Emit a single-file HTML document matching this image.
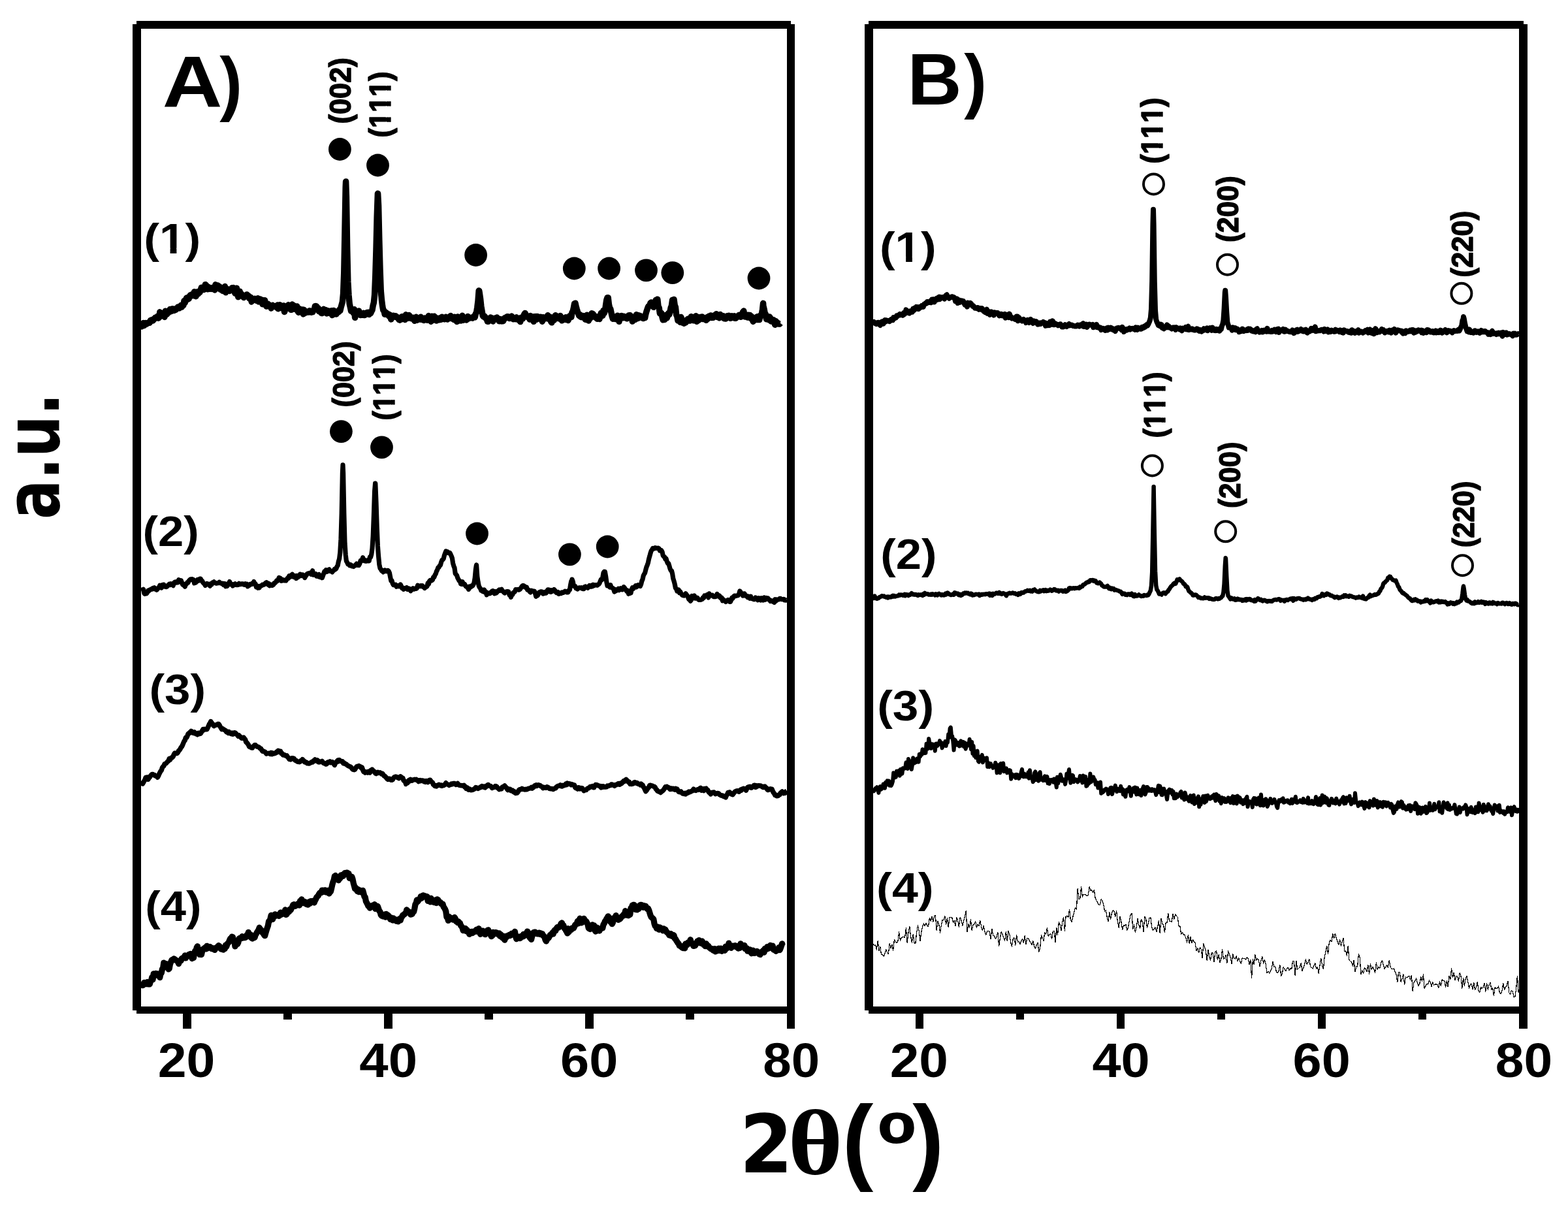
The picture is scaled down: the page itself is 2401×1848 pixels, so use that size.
<!DOCTYPE html>
<html lang="en"><head><meta charset="utf-8"><title>XRD patterns</title>
<style>html,body{margin:0;padding:0;background:#fff}svg{display:block}text{font-kerning:none;fill:#000}</style></head>
<body>
<svg width="2401" height="1848" viewBox="0 0 2401 1848" role="img" aria-label="XRD patterns, panels A and B">
<rect width="2401" height="1848" fill="#fff"/>
<g fill="none" stroke="#000" stroke-linejoin="round" stroke-linecap="butt">
<polyline points="216,499.25 217.2,499.8 218.4,498.37 219.6,494.52 220.8,498.41 222,497.09 223.2,494.47 224.4,496.17 225.6,495.35 226.8,494.55 228,493.52 229.2,494.13 230.4,490.51 231.6,490.88 232.8,489.53 234,491.1 235.2,489.51 236.4,488.33 237.6,486.28 238.8,486.19 240,485.86 241.2,484.16 242.4,487.13 243.6,486.28 244.8,477.87 246,479.76 247.2,483.25 248.4,482.67 249.6,483.54 250.8,482.65 252,485.37 253.2,476.33 254.4,476.74 255.6,481.15 256.8,478.24 258,478.77 259.2,476.21 260.4,473.46 261.6,476.76 262.8,476.17 264,472.64 265.2,474.11 266.4,475.54 267.6,472.94 268.8,474.53 270,473.5 271.2,472.2 272.4,470.07 273.6,471.7 274.8,471.89 276,470.14 277.2,467.36 278.4,470.11 279.6,466.19 280.8,467.67 282,460.62 283.2,463.57 284.4,459.97 285.6,456.13 286.8,457.72 288,457.97 289.2,457.36 290.4,453.21 291.6,451.76 292.8,453.34 294,450.63 295.2,451.69 296.4,452.63 297.6,446.77 298.8,451.53 300,453.68 301.2,449.16 302.4,446.73 303.6,449.77 304.8,446.96 306,447.57 307.2,443.76 308.4,440.2 309.6,443.31 310.8,441.55 312,443.57 313.2,440.74 314.4,435.65 315.6,436.54 316.8,442.3 318,442.79 319.2,439.38 320.4,441.52 321.6,442.33 322.8,441.38 324,442.41 325.2,440.39 326.4,440.18 327.6,440.63 328.8,444.01 330,435.85 331.2,440.93 332.4,440.82 333.6,437.09 334.8,441.28 336,438.65 337.2,443.03 338.4,440.64 339.6,443.61 340.8,445.39 342,443.17 343.2,440.38 344.4,438.52 345.6,447.74 346.8,443.9 348,442.48 349.2,444.89 350.4,443.54 351.6,445.53 352.8,443.18 354,442.91 355.2,440.85 356.4,444.01 357.6,440.62 358.8,445.9 360,449.23 361.2,442.66 362.4,441.16 363.6,449.16 364.8,454.63 366,446.16 367.2,446.19 368.4,452.26 369.6,449.91 370.8,451.94 372,453.3 373.2,455.51 374.4,452.71 375.6,453.81 376.8,452.12 378,450.92 379.2,453.26 380.4,452.79 381.6,456.72 382.8,454.73 384,455.33 385.2,462.03 386.4,457.94 387.6,458.1 388.8,459.34 390,457.28 391.2,458.35 392.4,460.15 393.6,460.27 394.8,456.85 396,461.87 397.2,458.6 398.4,457.94 399.6,458.77 400.8,460.2 402,465.77 403.2,459.68 404.4,463.92 405.6,459.88 406.8,466.17 408,469.07 409.2,466.59 410.4,465.37 411.6,466.62 412.8,467.57 414,467.91 415.2,471.95 416.4,468.87 417.6,467.59 418.8,468.59 420,468.49 421.2,469.1 422.4,469.38 423.6,470.93 424.8,467.1 426,472.83 427.2,469.14 428.4,466.81 429.6,470.42 430.8,471.64 432,469.66 433.2,469.61 434.4,467.94 435.6,477.57 436.8,473.89 438,469.25 439.2,469.57 440.4,471.28 441.6,466.84 442.8,470.93 444,470.29 445.2,474.18 446.4,474.3 447.6,466.08 448.8,471.78 450,467.85 451.2,473.18 452.4,470.65 453.6,471.85 454.8,468.9 456,476.62 457.2,478.42 458.4,472.62 459.6,476.65 460.8,475.25 462,476.77 463.2,473.93 464.4,480.94 465.6,474.46 466.8,476.4 468,478.91 469.2,476.92 470.4,477.98 471.6,477.44 472.8,478.06 474,475.68 475.2,477.7 476.4,478.22 477.6,477.78 478.8,477.76 480,474.96 481.2,474.18 482.4,468.67 483,470.11 483.6,468.59 484.8,469.14 486,471.48 487.2,471.67 488.4,476.75 489.6,474.52 490.8,476.65 492,479.54 493.2,479.64 494.4,477.6 495.6,473.34 496.8,478.37 498,478.3 499.2,474.69 500.4,479.87 501.6,476.97 502.8,475.92 504,479.08 505.2,478.73 506.4,479.7 507.6,475.67 508.8,482.6 510,477.34 511.2,475.42 512.4,480.86 513.6,479.56 514.8,481.04 516,478.95 517.2,478.57 518.4,477.8 519.6,474.3 520.8,475.86 522,470.83 523.2,466.41 524.4,462.03 525.6,449.49 526.8,416.93 528,353.53 529.2,286.81 529.6,278.04 530.4,300.77 531.6,377.77 532.8,431.17 534,451.81 535.2,464.97 536.4,470.55 537.6,476.29 538.8,474.45 540,476.72 541.2,479.34 542.4,473.71 543.6,486.28 544.8,478.19 546,478.24 547.2,481.8 548.4,479.89 549.6,476.04 550.8,481.73 552,482.53 553.2,479.94 554.4,480.7 555.6,482.32 556.8,479.34 558,482.57 559.2,482.1 560.4,480.29 561.6,478.58 562.8,480.26 564,478.24 565.2,481.51 566.4,479.03 567.6,479.64 568.8,476.92 570,474.57 571.2,467.65 572.4,463.22 573.6,451.5 574.8,422.36 576,382.05 577.2,331.69 578.4,296.69 578.6,296.24 579.6,315.27 580.8,367.83 582,411.91 583.2,445 584.4,458.6 585.6,468.26 586.8,474.89 588,475.47 589.2,481.25 590.4,478.2 591.6,478.9 592.8,480.79 594,482.56 595.2,481.02 596.4,484.92 597.6,482.31 598.8,488.91 600,485.83 601.2,484.3 602.4,483.3 603.6,484.67 604.8,485.19 606,483.92 607.2,484.85 608.4,486.6 609.6,486.11 610.8,489.51 612,490.08 613.2,487.89 614.4,489.06 615.6,484.67 616.8,488.19 618,486.48 619.2,486.93 620.4,489.55 621.6,481.86 622.8,486.95 624,484.09 625.2,487.09 626.4,482.62 627.6,484.27 628.8,486.1 630,487.73 631.2,487.3 632.4,486.4 633.6,487.55 634.8,491.14 636,489.25 637.2,485.36 638.4,490.3 639.6,488.55 640.8,489 642,486.51 643.2,488.94 644.4,485.34 645.6,489.28 646.8,486.96 648,489.41 649.2,490.54 650.4,486.94 651.6,488.83 652.8,488.82 654,490.15 655.2,488.42 656.4,483.6 657.6,487.52 658.8,488.76 660,492.3 661.2,484.31 662.4,486.31 663.6,490.06 664.8,484.25 666,485.18 667.2,489.5 668.4,490.98 669.6,487.3 670.8,489.06 672,487.34 673.2,489.79 674.4,486.56 675.6,489.14 676.8,485.18 678,486.48 679.2,486.48 680.4,488.7 681.6,487.65 682.8,485.32 684,488.49 685.2,488.83 686.4,486.95 687.6,486.45 688.8,486.67 690,483.55 691.2,487.63 692.4,487.77 693.6,485.67 694.8,489.39 696,485.31 697.2,487.28 698.4,487.24 699.6,492.49 700.8,485.01 702,489.95 703.2,491.07 704.4,489.79 705.6,491.06 706.8,485.86 708,483.26 709.2,490.29 710.4,486.64 711.6,489 712.8,486.66 714,489.97 715.2,488.7 716.4,484.5 717.6,487.69 718.8,486.81 720,486.43 721.2,486.67 722.4,486.11 723.6,487 724.8,485.78 726,484.02 727.2,485.75 728.4,480.41 729.6,478.27 730.8,470.65 732,460.87 733.2,444.98 733.8,445.4 734.4,449.24 735.6,457.37 736.8,468.84 738,475.87 739.2,483.41 740.4,485.01 741.6,483.87 742.8,485.18 744,487.56 745.2,487.89 746.4,492.09 747.6,492.33 748.8,490.25 750,488.28 751.2,485.91 752.4,486.73 753.6,488.98 754.8,491.97 756,489.75 757.2,487.5 758.4,488 759.6,486.99 760.8,486.15 762,487.55 763.2,488.39 764.4,491.83 765.6,488.4 766.8,490.87 768,491.88 769.2,488.66 770.4,491.69 771.6,489.54 772.8,486.82 774,487.2 775.2,485.77 776.4,484.97 777.6,484.68 778.8,485.89 780,487.48 781.2,485.2 782.4,487.28 783.6,484.1 784.8,487.82 786,488.72 787.2,487.98 788.4,488.18 789.6,488.68 790.8,485.86 792,487.19 793.2,489.22 794.4,490.28 795.6,488.79 796.8,492.6 798,486.24 799.2,487.92 800.4,487.89 801.6,483.9 802.8,481.23 804,479.44 805.2,481.74 806.4,484.71 807.6,484.52 808.8,486.13 810,486.28 811.2,489.05 812.4,483.6 813.6,488.39 814.8,488.24 816,485.02 817.2,492.34 818.4,484.78 819.6,485.12 820.8,484.57 822,489.11 823.2,484.48 824.4,487.57 825.6,487.92 826.8,487.88 828,485.28 829.2,487.15 830.4,492.26 831.6,485.78 832.8,486.1 834,486.94 835.2,487.55 836.4,485.45 837.6,486.32 838.8,482.71 840,488.21 841.2,488.93 842.4,485.3 843.6,492.3 844.8,493.87 846,486.64 847.2,487.89 848.4,490.34 849.6,483.94 850.8,482.8 852,484.15 853.2,485.73 854.4,485.4 855.6,487.73 856.8,486.82 858,483.46 859.2,487.71 860.4,490.86 861.6,489.56 862.8,489.58 864,487.4 865.2,489.36 866.4,485.79 867.6,489.54 868.8,487.98 870,490.38 871.2,487.97 872.4,483.54 873.6,484.79 874.8,485.51 876,478.36 877.2,476.56 878.4,471.45 879.6,464.8 880.8,466.85 881,464.32 882,468.9 883.2,473.29 884.4,477.24 885.6,480.41 886.8,483.38 888,481.71 889.2,485.26 890.4,485.61 891.6,485.71 892.8,483.52 894,485.09 895.2,484.77 896.4,489.24 897.6,486.08 898.8,482.31 900,487.84 901.2,491.05 902.4,487.85 903.6,487.69 904.8,484.78 906,479.83 907.2,480.1 908.4,481.13 909.6,483.79 910.8,485.18 912,486.35 913.2,484.85 914.4,488.23 915.6,486.01 916.8,485.24 918,488.43 919.2,484.22 920.4,479.18 921.6,481.86 922.8,483.38 924,475.44 925.2,479.34 926.4,475.87 927.6,467.12 928.8,459.2 930,455.66 930.5,456.27 931.2,455.65 932.4,466.05 933.6,471.62 934.8,473.08 936,478.64 937.2,484.35 938.4,488.12 939.6,485.36 940.8,485.23 942,488.5 943.2,484.74 944.4,484.8 945.6,483.29 946.8,485.99 948,492.3 949.2,484.68 950.4,487.16 951.6,483.43 952.8,485.64 954,486.76 955.2,484.24 956.4,486.34 957.6,486.45 958.8,485.42 960,487.86 961.2,485.49 962.4,483.1 963.6,482.69 964.8,482.78 966,486.21 967.2,485.19 968.4,492.07 969.6,490.02 970.8,485.33 972,484.91 973.2,489.14 974.4,481.73 975.6,484.88 976.8,487.51 978,482.84 979.2,483.41 980.4,483.69 981.6,485.98 982.8,485.82 984,487.03 985.2,487.48 986.4,485.85 987.6,486.69 988.8,480.88 990,476.78 991.2,473.21 992.4,469.97 993.6,468.15 994.8,468.02 996,463.9 997.2,462.94 998.4,464.76 999.6,468.61 1000.8,470.29 1002,468.61 1003.2,462.46 1004.4,459.21 1005.5,459.88 1005.6,460.44 1006.8,458.15 1008,469.28 1009.2,471.18 1010.4,479.96 1011.6,480.4 1012.8,479.32 1014,485.4 1015.2,489.79 1016.4,486.85 1017.6,489.47 1018.8,486.82 1020,482.29 1021.2,486.98 1022.4,483.46 1023.6,479.47 1024.8,481.61 1026,477.1 1027.2,471.11 1028.4,468.21 1029.6,459.28 1030.8,459.92 1032,458.45 1033.2,467.11 1034.4,470.18 1035.6,481.72 1036.8,484.35 1038,490.83 1039.2,488.78 1040.4,490.61 1041.6,493.28 1042.8,485.51 1044,489.12 1045.2,494.09 1046.4,493.75 1047.6,495.2 1048.8,492.56 1050,493.8 1051.2,490.7 1052.4,489.24 1053.6,488.27 1054.8,490.82 1056,490.98 1057.2,490.74 1058.4,484.72 1059.6,487.59 1060.8,489.8 1062,490.82 1063.2,488.23 1064.4,487.03 1065.6,483.77 1066.8,492.32 1068,485.2 1069.2,490.58 1070.4,489.79 1071.6,486.93 1072.8,485.47 1074,487.29 1075.2,485.04 1076.4,488.57 1077.6,487.8 1078.8,488.65 1080,489.21 1081.2,490.27 1082.4,485.81 1083.6,488.47 1084.8,484.42 1086,484.02 1087.2,483.93 1088.4,482.93 1089.6,486.42 1090.8,485.87 1092,486.32 1093.2,483.01 1094.4,483.59 1095.6,481.71 1096.8,480.79 1098,485.17 1099.2,485.28 1100.4,482.85 1101.6,486.82 1102.8,481.44 1104,485.17 1105.2,484.5 1106.4,484.73 1107.6,483.71 1108.8,487.66 1110,486.59 1111.2,488.08 1112.4,486.16 1113.6,483.67 1114.8,485.39 1116,483.19 1117.2,486.4 1118.4,487.31 1119.6,485.52 1120.8,483.99 1122,484.63 1123.2,486.67 1124.4,483.87 1125.6,487.24 1126.8,487.19 1128,484.92 1129.2,484.13 1130.4,484.87 1131.6,482.41 1132.8,482.19 1134,485.26 1135.2,483.05 1136.4,484.58 1137.6,477.58 1138,478.88 1138.8,476.11 1140,483.21 1141.2,485.05 1142.4,483.03 1143.6,482.27 1144.8,485.88 1146,482.36 1147.2,485.72 1148.4,482.53 1149.6,487.33 1150.8,484.39 1152,488.62 1153.2,492.17 1154.4,488.4 1155.6,490.26 1156.8,487.07 1158,486.55 1159.2,484.86 1160.4,489.55 1161.6,486.72 1162.8,489.6 1164,483.07 1165.2,484.03 1166.4,480.61 1167.6,473.63 1168.6,464.37 1168.8,468.1 1170,472.82 1171.2,479.67 1172.4,480.99 1173.6,488.73 1174.8,487.27 1176,487.21 1177.2,489.68 1178.4,485.06 1179.6,486.59 1180.8,492.08 1182,491.2 1183.2,491.32 1184.4,489.8 1185.6,494.14 1186.8,497.29 1188,491.6 1189.2,494.38 1190.4,494 1191.6,496.03 1192.8,495.65 1194,496.07 1195,494.83" stroke-width="9.5"/>
<polyline points="216,904.2 217.2,903.15 218.4,903.37 219.6,902.41 220.8,908.42 222,909.43 223.2,908.8 224.4,908.86 225.6,907.21 226.8,904.28 228,904.72 229.2,903.06 230.4,902.85 231.6,901.87 232.8,902.19 234,900.39 235.2,900.72 236.4,899.74 237.6,901.9 238.8,901.22 240,903.23 241.2,901.84 242.4,900.15 243.6,899.02 244.8,896.33 246,897.97 247.2,900.02 248.4,895.54 249.6,895.4 250.8,895.13 252,897.96 253.2,897.48 254.4,898.63 255.6,898.11 256.8,896.38 258,895.47 259.2,894.23 260.4,895.57 261.6,893.67 262.8,894.53 264,895.36 265.2,896.58 266.4,892.26 267.6,891.28 268.8,890.92 270,892 271.2,890.44 272.4,891.73 273.6,887.66 274.8,890.87 276,891.03 277.2,888.65 278.4,891.76 279.6,894.91 280.8,894.12 282,896.53 283.2,898.17 284.4,894.97 285.6,893.93 286.8,891.69 288,892.12 289.2,889.32 290.4,887.98 291.6,886.94 292.8,887.5 294,886.62 295.2,887.14 296.4,887.55 297.6,892.85 298.8,890.78 300,891.88 301.2,889.22 302.4,887.55 303.6,889.22 304.8,888 306,885.98 307.2,886.03 308.4,889.41 309.6,889.47 310.8,891.86 312,893.26 313.2,894.25 314.4,896.36 315.6,894.67 316.8,893.52 318,894.4 319.2,894.11 320.4,895.76 321.6,897.19 322.8,893.7 324,895.08 325.2,892.04 326.4,891.73 327.6,890.84 328.8,892.14 330,892.67 331.2,893.22 332.4,892.92 333.6,892.79 334.8,892.61 336,891.2 337.2,892.69 338.4,893.1 339.6,893.45 340.8,893.08 342,895.4 343.2,893.48 344.4,893.54 345.6,897.83 346.8,894.84 348,897.25 349.2,893.57 350.4,893.12 351.6,890.42 352.8,894.59 354,894.27 355.2,894.41 356.4,896.98 357.6,894.83 358.8,894.49 360,893.67 361.2,895.35 362.4,895.54 363.6,895.54 364.8,895.36 366,893.4 367.2,894.19 368.4,894.74 369.6,893.96 370.8,893.89 372,893.89 373.2,895 374.4,895.4 375.6,893.87 376.8,895.45 378,894.42 379.2,897.9 380.4,895.37 381.6,896.28 382.8,894.27 384,894.41 385.2,894.6 386.4,893.14 387.6,893.15 388.8,890.59 390,894.45 391.2,893.98 392.4,898.87 393.6,897.91 394.8,900.15 396,897.61 397.2,899.89 398.4,897.15 399.6,896.88 400.8,896.57 402,895.14 403.2,895.18 404.4,895.13 405.6,893.75 406.8,892.46 408,891.62 409.2,892.73 410.4,895.12 411.6,893.51 412.8,896.76 414,895.55 415.2,895.1 416.4,896.49 417.6,896.14 418.8,895.1 420,892.63 421.2,892.54 422.4,891.3 423.6,888.94 424.8,889.54 426,887.99 427.2,884.4 428.4,886.32 429.6,885.54 430.8,889.3 432,889.23 433.2,887.59 434.4,888.11 435.6,888.92 436.8,888.13 438,888.86 439.2,886.81 440.4,884.98 441.6,885.33 442.8,881.71 444,883.62 445.2,882.93 446.4,880.44 447.6,879.27 448.8,880.77 450,883.4 451.2,882.36 452.4,881.78 453.6,885.64 454.8,881.54 456,884.11 457.2,881.58 458.4,882.07 459.6,879.15 460.8,881.68 462,881.34 463.2,879.94 464.4,880.43 465.6,882.56 466.8,884.56 468,882.05 469.2,880.64 470.4,878.55 471.6,878.06 472.8,877.74 474,877.58 475.2,876.97 476.4,879.29 477.6,878.02 478.6,873.74 478.8,874.89 480,880.21 481.2,880.05 482.4,879.98 483.6,878.76 484.8,882.19 486,882.35 487.2,880.66 488.4,879.52 489.6,883.49 490.8,881.8 492,882.24 493.2,884.85 494.4,881.82 495.6,878.27 496.8,875.09 498,875.96 499.2,872.67 500.4,875.46 501.6,873.87 502.8,872.53 504,871.84 505.2,874.31 506.4,874 507.6,874.96 508.8,875.83 510,874.02 511.2,873.2 512.4,871.15 513.6,871.7 514.8,870.64 516,867.55 517.2,865.74 518.4,859.44 519.6,855.47 520.8,845.73 522,825.13 523.2,785.89 524.4,724.47 525,711.93 525.6,724.1 526.8,786.19 528,831.27 529.2,849.32 530.4,859.09 531.6,861 532.8,863.8 534,864.05 535.2,865.73 536.4,864.44 537.6,865.12 538.8,866.83 540,867.01 541.2,867.48 542.4,866.18 543.6,866.05 544.8,864.71 546,863.09 547.2,865.26 548.4,864 549.6,865.4 550.8,863.16 552,858.53 553.2,859.05 554.4,858.37 555.6,853.71 556.8,857.08 558,858.67 559.2,857.8 560.4,859.22 561.6,858.6 562.8,858.96 564,857.19 565.2,858.69 566.4,852.96 567.6,853.17 568.8,848.65 570,839.81 571.2,820.62 572.4,788.87 573.6,752.17 574.6,740.03 574.8,740.08 576,769.45 577.2,807.21 578.4,835.96 579.6,851.89 580.8,864.22 582,870.07 583.2,871.47 584.4,873.96 585.6,873.55 586.8,875.88 588,873.9 589.2,873 590.4,874.09 591.6,874.73 592.8,873.55 594,873.42 595.2,874.48 596.4,877.03 597.6,883.25 598.8,889.14 600,888.84 601.2,893.39 602.4,895.6 603.6,894.85 604.8,896.13 606,895.37 607.2,898.25 608.4,896.5 609.6,897.69 610.8,897.79 612,896.29 613.2,894.98 614.4,897.25 615.6,900.6 616.8,900.95 618,902.3 619.2,900.56 620.4,901.26 621.6,901.24 622.8,899.57 624,902.39 625.2,900.94 626.4,901.1 627.6,901.55 628.8,904.78 630,902.67 631.2,902.6 632.4,900.78 633.6,902.24 634.8,901.89 636,900.96 637.2,901.48 638.4,900.57 639.6,896.3 640.8,897.87 642,897.19 643.2,897.71 644.4,896.66 645.6,897.61 646.8,896.7 648,898.69 649.2,898.94 650.4,900.47 651.6,898.91 652.8,898.57 654,897.64 655.2,892.7 656.4,894.29 657.6,889.76 658.8,888.41 660,889.36 661.2,888.8 662.4,887.82 663.6,883.62 664.8,883.8 666,880.4 667.2,878.7 668.4,874.75 669.6,872.64 670.8,869.18 672,868.69 673.2,866.03 674.4,865.36 675.6,860.76 676.8,857.72 678,856.79 679.2,855.42 680.4,850.21 681.6,847.16 682.8,843.95 684,844.43 685.2,844.75 686.4,846.71 687.6,846.43 688.8,846.31 690,848.71 691.2,851.41 692.4,854.52 693.6,862.39 694.8,866.6 696,869.5 697.2,878.2 698.4,879.47 699.6,881.18 700.8,884.93 702,886.99 703.2,889.31 704.4,889.79 705.6,893.88 706.8,894.38 708,890.6 709.2,894.45 710.4,894.79 711.6,894.49 712.8,896.94 714,898.22 715.2,898.7 716.4,900.25 717.6,902.32 718.8,897.87 720,899.26 721.2,898.6 722.4,896.71 723.6,897.01 724.8,895.12 726,892.18 727.2,884.76 728.4,871.82 729.3,866.16 729.6,865.05 730.8,882.48 732,890.69 733.2,896.92 734.4,899.54 735.6,900.98 736.8,904.13 738,903.14 739.2,905.62 740.4,905.84 741.6,902.99 742.8,906.9 744,906.01 745.2,910.83 746.4,908.98 747.6,908.74 748.8,907.9 750,908.75 751.2,908.09 752.4,906.17 753.6,904.9 754.8,904.61 756,905.79 757.2,908.79 758.4,905.6 759.6,908.05 760.8,907.12 762,905.11 763.2,904.33 764.4,902.97 765.6,904.22 766.8,902.77 768,902.2 769.2,904.47 770.4,905.66 771.6,906.97 772.8,907.94 774,906.06 775.2,906.55 776.4,905.67 777.6,905.52 778.8,906.09 780,910.99 781.2,910.74 782.4,914.42 783.6,909.6 784.8,910.4 786,907.28 787.2,906.78 788.4,905.88 789.6,902.6 790.8,902.81 792,902.72 793.2,902.36 794.4,903.19 795.6,902.62 796.8,901.64 798,899.7 799.2,897.64 800.4,896.54 801.6,896.64 802.8,897.4 804,899.2 805.2,898.75 806.4,898.98 807.6,903.07 808.8,902.78 810,904.1 811.2,905.88 812.4,906.85 813.6,904.11 814.8,904.56 816,905.11 817.2,905.02 818.4,905.31 819.6,908.73 820.8,913.22 822,911.13 823.2,911.76 824.4,909.89 825.6,906.85 826.8,907.43 828,905.88 829.2,905.88 830.4,905.98 831.6,909.11 832.8,908.65 834,908.48 835.2,906.39 836.4,907.94 837.6,904.84 838.8,902.93 840,902.86 841.2,903.22 842.4,906.25 843.6,906.43 844.8,903.71 846,905.21 847.2,904.23 848.4,902.47 849.6,903.68 850.8,906.05 852,907.6 853.2,907.73 854.4,906.49 855.6,909.33 856.8,907.73 858,908.54 859.2,908.61 860.4,906.92 861.6,907.1 862.8,907.35 864,906.33 865.2,905.19 866.4,905.56 867.6,906.86 868.8,906.94 870,906.81 871.2,903.73 872.4,903.09 873.6,895.45 874.8,889.72 875.7,888.93 876,887.12 877.2,890.19 878.4,896.67 879.6,897.87 880.8,897.55 882,900.87 883.2,900.99 884.4,902.02 885.6,900.63 886.8,899.9 888,899.73 889.2,900.35 890.4,899.63 891.6,901.3 892.8,901.68 894,901.62 895.2,898.6 896.4,898.01 897.6,899.08 898.8,899.45 900,900.24 901.2,898.25 902.4,896.66 903.6,897.7 904.8,898.25 906,896.35 907.2,897.8 908.4,895.37 909.6,896.55 910.8,895.65 912,895.95 913.2,895.64 914.4,896.2 915.6,895.19 916.8,894.51 918,892.96 919.2,889.67 920.4,887.13 921.6,887.91 922.8,884.21 924,876.98 925.2,875.26 925.5,875.96 926.4,875.56 927.6,882.34 928.8,890.92 930,896.84 931.2,895.77 932.4,896.58 933.6,899.01 934.8,895.63 936,899.32 937.2,899.93 938.4,900.49 939.6,902.2 940.8,906.02 942,902.41 943.2,904.64 944.4,904.09 945.6,902.95 946.8,901.27 948,903.62 949.2,902.53 950.4,900.77 951.6,902.44 952.8,902.92 954,901.71 955.2,898.66 956.4,900.13 957.6,902.11 958.8,903.92 960,905.45 961.2,904.42 962.4,909.25 963.6,907.22 964.8,908.32 966,907.93 967.2,902.37 968.4,899.73 969.6,901.59 970.8,899.24 972,898.48 973.2,896.75 974.4,898.92 975.6,896.71 976.8,895.69 978,897.21 979.2,896.73 980.4,897.43 981.6,894.62 982.8,889.61 984,887.04 985.2,881.39 986.4,879 987.6,877.23 988.8,872.24 990,867.99 991.2,865.23 992.4,861.54 993.6,855.75 994.8,851.61 996,846.98 997.2,843.45 998.4,841.75 999.6,839.46 1000.8,839.52 1002,839.9 1003.2,838.6 1004.4,838.99 1005.6,839.44 1006.8,839.29 1008,839.09 1009.2,839.94 1010.4,843.24 1011.6,843.32 1012.8,842.65 1014,844.86 1015.2,850.45 1016.4,852.12 1017.6,852.77 1018.8,855.92 1020,855.33 1021.2,859.36 1022.4,862.31 1023.6,862.26 1024.8,866.19 1026,870.61 1027.2,873.46 1028.4,873.72 1029.6,878.31 1030.8,885.97 1032,889.55 1033.2,894.19 1034.4,900.19 1035.6,901.48 1036.8,904.96 1038,903.95 1039.2,902.98 1040.4,907.66 1041.6,905.8 1042.8,908.51 1044,910.33 1045.2,911.53 1046.4,911.28 1047.6,912.03 1048.8,910.63 1050,908.74 1051.2,910.64 1052.4,911.8 1053.6,914.74 1054.8,917.69 1056,917.88 1057.2,920.21 1058.4,918.75 1059.6,912.43 1060.8,914.4 1062,913.94 1063.2,912.06 1064.4,916.17 1065.6,915.15 1066.8,915 1068,915.29 1069.2,917.68 1070.4,918.47 1071.6,918.22 1072.8,918.33 1074,917.88 1075.2,917.46 1076.4,914.94 1077.6,915.39 1078.8,911.98 1080,912.18 1081.2,912.39 1082.4,910.76 1083.6,912.85 1084.8,914.89 1086,908.9 1087.2,912.09 1088.4,911.33 1089.6,911.57 1090.8,911.14 1092,913.07 1093.2,913.56 1094.4,913.63 1095.6,913.74 1096.8,912.77 1098,909.35 1099.2,912.67 1100.4,911.58 1101.6,911.88 1102.8,914.93 1104,915.98 1105.2,915.31 1106.4,919.74 1107.6,917.74 1108.8,919.4 1110,919.84 1111.2,921.34 1112.4,920.37 1113.6,919.04 1114.8,918.37 1116,919.46 1117.2,921.49 1118.4,921.47 1119.6,918.77 1120.8,915.24 1122,916.1 1123.2,913.48 1124.4,912.36 1125.6,912.14 1126.8,912.53 1128,912 1129.2,911.82 1130.4,911.46 1131.6,909.36 1132.8,904.96 1134,906.36 1135.2,908.81 1136.4,909.06 1137.6,912.05 1138.8,909.09 1140,908.82 1141.2,911.15 1142.4,912.58 1143.6,912.32 1144.8,914.63 1146,913.14 1147.2,913.52 1148.4,916.29 1149.6,913.17 1150.8,916.47 1152,916.69 1153.2,917.29 1154.4,917.78 1155.6,917.67 1156.8,914.87 1158,916.3 1159.2,917.15 1160.4,918.66 1161.6,915.7 1162.8,916.16 1164,916.13 1165.2,919.01 1166.4,915.82 1167.6,916.25 1168.8,918.98 1170,914.83 1171.2,918.28 1172.4,917.14 1173.6,915.64 1174.8,917.15 1176,916.04 1177.2,917.65 1178.4,918.32 1179.6,920.39 1180.8,919.49 1182,920.62 1183.2,920.38 1184.4,921.58 1185.6,922.45 1186.8,917.69 1188,920.17 1189.2,917.94 1190.4,918.06 1191.6,918.06 1192.8,917.76 1194,916.45 1195.2,916.31 1196.4,917.39 1197.6,917.6 1198.8,917.52 1200,917.41 1201.2,918.74 1202.4,918.33 1203.6,919.04 1204.8,918.04" stroke-width="7.2"/>
<polyline points="216,1202.94 217.2,1199.27 218.4,1199.9 219.6,1197.97 220.8,1195.73 222,1193.62 223.2,1190.35 224.4,1190.14 225.6,1190.06 226.8,1193.26 228,1191.26 229.2,1190.02 230.4,1188.05 231.6,1186.5 232.8,1185.41 234,1185.49 235.2,1186.68 236.4,1186.53 237.6,1187.72 238.8,1187.86 240,1188.77 241.2,1190.18 242.4,1188.33 243.6,1185.38 244.8,1183.02 246,1180.82 247.2,1179.49 248.4,1175.57 249.6,1173.67 250.8,1172.74 252,1169.86 253.2,1169.21 254.4,1168.77 255.6,1167.26 256.8,1165.81 258,1165.16 259.2,1161.52 260.4,1163.39 261.6,1161.37 262.8,1159.77 264,1159.7 265.2,1157.99 266.4,1154.99 267.6,1153.05 268.8,1153.54 270,1153.37 271.2,1153.52 272.4,1151.96 273.6,1149.54 274.8,1148.57 276,1146.65 277.2,1144.36 278.4,1143.12 279.6,1140.57 280.8,1137.67 282,1134.87 283.2,1133.36 284.4,1129.31 285.6,1129.36 286.8,1127.19 288,1123.55 289.2,1122.94 290.4,1121.63 291.6,1122.02 292.8,1119.41 294,1120.49 295.2,1121.51 296.4,1122.36 297.6,1120.94 298.8,1122.62 300,1123.73 301.2,1123.21 302.4,1124.66 303.6,1122.45 304.8,1123.46 306,1122.08 307.2,1123.02 308.4,1121.03 309.6,1118.93 310.8,1116.79 312,1117.72 313.2,1116.38 314.4,1116.52 315.6,1116.81 316.8,1116.8 318,1114.54 319.2,1111.83 320.4,1108.8 321.6,1107.21 322.8,1104.74 324,1106.54 325.2,1108.1 326.4,1110.23 327.6,1111.55 328.8,1110.55 330,1109.91 331.2,1109.91 332.4,1109.79 333.6,1108.47 334.8,1108.54 336,1110.17 337.2,1112.55 338.4,1114.51 339.6,1116.51 340.8,1115.62 342,1116.7 343.2,1117.14 344.4,1118.06 345.6,1118.49 346.8,1120.85 348,1120.92 349.2,1122.21 350.4,1120.39 351.6,1122.65 352.8,1122.92 354,1123.67 355.2,1122.3 356.4,1124.18 357.6,1123.87 358.8,1121.81 360,1121.94 361.2,1122.93 362.4,1124.26 363.6,1125.63 364.8,1127.16 366,1126.07 367.2,1127.68 368.4,1128.21 369.6,1130.1 370.8,1129.71 372,1130.2 373.2,1129.27 374.4,1130.93 375.6,1132.27 376.8,1136.02 378,1137.04 379.2,1138.56 380.4,1140.29 381.6,1142.95 382.8,1143.69 384,1144.01 385.2,1144.85 386.4,1145.04 387.6,1142.93 388.8,1142.16 390,1140.77 391.2,1140.83 392.4,1142.24 393.6,1143.06 394.8,1143.24 396,1143.85 397.2,1144.47 398.4,1146.1 399.6,1146.3 400.8,1148.38 402,1150.24 403.2,1149.93 404.4,1150.63 405.6,1151.09 406.8,1152.44 408,1154.09 409.2,1153.41 410.4,1153.42 411.6,1153.35 412.8,1153.48 414,1154.4 415.2,1152.48 416.4,1154.62 417.6,1153.09 418.8,1154.03 420,1153.6 421.2,1153.33 422.4,1152.7 423.6,1151.03 424.8,1151.64 426,1149.36 427.2,1149.74 428.4,1150.83 429.6,1150.45 430.8,1153.54 432,1153.52 433.2,1155.96 434.4,1155.61 435.6,1155.81 436.8,1156.77 438,1157.29 439.2,1156.9 440.4,1159.01 441.6,1160.09 442.8,1162.33 444,1161.63 445.2,1162.7 446.4,1161 447.6,1160.83 448.8,1160.9 450,1161.1 451.2,1163.34 452.4,1164.34 453.6,1164.54 454.8,1165.57 456,1166.34 457.2,1166.37 458.4,1166.71 459.6,1166.03 460.8,1164.65 462,1164.97 463.2,1162.6 464.4,1164.91 465.6,1165.06 466.8,1167.02 468,1167.07 469.2,1167.03 470.4,1168.64 471.6,1168.63 472.8,1169.02 474,1168.79 475.2,1168.11 476.4,1167.29 477.6,1166.6 478.8,1166.87 480,1164.73 481.2,1165.09 482.4,1163.02 483.6,1164.13 484.8,1164.95 486,1163.97 487.2,1166.65 488.4,1166.98 489.6,1165.99 490.8,1166.5 492,1166.1 493.2,1165.46 494.4,1167.17 495.6,1168.42 496.8,1169.09 498,1168.83 499.2,1170.04 500.4,1169.49 501.6,1167.2 502.8,1166.66 504,1166.72 505.2,1165.86 506.4,1167.66 507.6,1166.73 508.8,1166.61 510,1168.41 511.2,1169.58 512.4,1171.31 513.6,1168.58 514.8,1166.89 516,1165.64 517.2,1164.33 518.4,1165.72 519.6,1163.56 520.8,1164.97 522,1165.2 523.2,1165.9 524.4,1165.74 525.6,1168.56 526.8,1167.9 528,1169.4 529.2,1169.47 530.4,1170.2 531.6,1171.67 532.8,1172.19 534,1172.85 535.2,1173.47 536.4,1173.85 537.6,1174.78 538.8,1176.34 540,1177.84 541.2,1178.41 542.4,1178.65 543.6,1178.09 544.8,1175.85 546,1173.92 547.2,1173.14 548.4,1173.37 549.6,1172.63 550.8,1173.37 552,1173.76 553.2,1175.87 554.4,1175.25 555.6,1178.73 556.8,1181.54 558,1181.14 559.2,1183.1 560.4,1182.23 561.6,1181.91 562.8,1182.93 564,1181.44 565.2,1182.32 566.4,1183 567.6,1179.58 568.8,1180.31 570,1178.25 571.2,1179.92 572.4,1181.15 573.6,1181.44 574.8,1183.91 576,1184.59 577.2,1183.16 578.4,1182.41 579.6,1183.46 580.8,1183.11 582,1182.85 583.2,1183.79 584.4,1185 585.6,1184.39 586.8,1185.96 588,1187.87 589.2,1188.3 590.4,1189.44 591.6,1190.95 592.8,1192.45 594,1193.38 595.2,1192.15 596.4,1192.33 597.6,1192.82 598.8,1194.23 600,1194.26 601.2,1193.67 602.4,1191.5 603.6,1189.89 604.8,1189.39 606,1189.11 607.2,1189.35 608.4,1190.41 609.6,1190.36 610.8,1191.59 612,1189.7 613.2,1188.83 614.4,1189.85 615.6,1190.7 616.8,1191.38 618,1194.73 619.2,1196 620.4,1196.31 621.6,1200.31 622.8,1198.77 624,1198.79 625.2,1195.85 626.4,1194.37 627.6,1195.72 628.8,1193.53 630,1194.67 631.2,1195.16 632.4,1193.96 633.6,1193.95 634.8,1193.38 636,1193.85 637.2,1193.3 638.4,1194.45 639.6,1194.99 640.8,1196.56 642,1194.8 643.2,1194.61 644.4,1195.65 645.6,1194.9 646.8,1194.99 648,1195.14 649.2,1196.64 650.4,1195.87 651.6,1197.24 652.8,1195.71 654,1196.41 655.2,1197.59 656.4,1195.11 657.6,1194.48 658.8,1194.27 660,1196.32 661.2,1197.39 662.4,1198.32 663.6,1201.39 664.8,1202.12 666,1203.42 667.2,1202.7 668.4,1203.93 669.6,1202.95 670.8,1202.13 672,1201.32 673.2,1201.75 674.4,1202.66 675.6,1202.04 676.8,1203.23 678,1202.58 679.2,1202.61 680.4,1201.81 681.6,1200.57 682.8,1198.8 684,1200.43 685.2,1200.85 686.4,1201.22 687.6,1202.36 688.8,1201.62 690,1201.33 691.2,1200.11 692.4,1200.69 693.6,1199.74 694.8,1199.51 696,1199.56 697.2,1200.84 698.4,1201.55 699.6,1200.69 700.8,1199.54 702,1201.54 703.2,1202.2 704.4,1202.45 705.6,1202.56 706.8,1202.71 708,1202.77 709.2,1203.05 710.4,1202.39 711.6,1204.94 712.8,1204.65 714,1207.48 715.2,1205.86 716.4,1208.04 717.6,1209.11 718.8,1207.81 720,1208.6 721.2,1209.65 722.4,1209.6 723.6,1209.3 724.8,1208.8 726,1208.13 727.2,1207.33 728.4,1205.58 729.6,1205.84 730.8,1206.61 732,1207.43 733.2,1206.65 734.4,1205.76 735.6,1205.81 736.8,1204.36 738,1203.53 739.2,1204.14 740.4,1205.09 741.6,1204.2 742.8,1205.9 744,1203.68 745.2,1204.01 746.4,1201.98 747.6,1201.51 748.8,1202.68 750,1203.16 751.2,1203.6 752.4,1204.84 753.6,1206.35 754.8,1205.73 756,1205.04 757.2,1205.26 758.4,1203.6 759.6,1203.76 760.8,1204.61 762,1206.46 763.2,1207.25 764.4,1208.65 765.6,1207.92 766.8,1208.02 768,1207.8 769.2,1204.95 770.4,1205.01 771.6,1203.86 772.8,1202.98 774,1204.99 775.2,1205.63 776.4,1207.94 777.6,1209.5 778.8,1208.02 780,1209.12 781.2,1208.42 782.4,1210.69 783.6,1210.68 784.8,1210.14 786,1212.27 787.2,1211.58 788.4,1213.78 789.6,1214.4 790.8,1213.12 792,1213.84 793.2,1212.36 794.4,1209.65 795.6,1208.75 796.8,1208.99 798,1208.33 799.2,1207.4 800.4,1208.03 801.6,1208.61 802.8,1208.43 804,1208.93 805.2,1208.27 806.4,1208.82 807.6,1208.32 808.8,1207.43 810,1207.15 811.2,1207.06 812.4,1206.9 813.6,1205.47 814.8,1207.06 816,1206.01 817.2,1205.26 818.4,1203.08 819.6,1202.42 820.8,1201.92 822,1203.37 823.2,1202.09 824.4,1201.78 825.6,1202.33 826.8,1202.42 828,1203.7 829.2,1204.11 830.4,1205.04 831.6,1206.5 832.8,1205.32 834,1206.04 835.2,1205.98 836.4,1206.26 837.6,1204.77 838.8,1205.2 840,1205.89 841.2,1207.29 842.4,1207.63 843.6,1207.81 844.8,1207.5 846,1208.07 847.2,1208.55 848.4,1207.48 849.6,1207.11 850.8,1206.91 852,1204.81 853.2,1204.21 854.4,1203.4 855.6,1203.12 856.8,1203.07 858,1202.07 859.2,1203.66 860.4,1204.05 861.6,1202.37 862.8,1202.95 864,1202.6 865.2,1202.1 866.4,1200.15 867.6,1201.46 868.8,1199.27 870,1200.56 871.2,1199.75 872.4,1199.86 873.6,1200.55 874.8,1201.71 876,1200.79 877.2,1201.45 878.4,1202.02 879.6,1202.09 880.8,1205.77 882,1206.65 883.2,1206.7 884.4,1207.92 885.6,1205.8 886.8,1205.98 888,1207.89 889.2,1207.63 890.4,1206.44 891.6,1206.84 892.8,1208.59 894,1210.54 895.2,1209.95 896.4,1209.49 897.6,1209.56 898.8,1207.89 900,1207.06 901.2,1206.85 902.4,1205.86 903.6,1204.66 904.8,1204.28 906,1204.68 907.2,1203.83 908.4,1205.52 909.6,1205.77 910.8,1202.98 912,1201.48 913.2,1201.66 914.4,1201.94 915.6,1202.52 916.8,1203.16 918,1203.14 919.2,1203.94 920.4,1205.81 921.6,1204 922.8,1205.13 924,1203.93 925.2,1204.77 926.4,1205.06 927.6,1204.93 928.8,1204.86 930,1203.17 931.2,1203.6 932.4,1203.02 933.6,1202.44 934.8,1202.47 936,1201.04 937.2,1201.02 938.4,1201.79 939.6,1202.42 940.8,1203.22 942,1201.7 943.2,1202.06 944.4,1201.12 945.6,1200.44 946.8,1199.68 948,1201.26 949.2,1201.16 950.4,1199.09 951.6,1199.72 952.8,1198.6 954,1196.8 955.2,1195.54 956.4,1196.32 957.6,1194.95 958.8,1193.37 960,1194.76 961.2,1196.22 962.4,1197.74 963.6,1197.33 964.8,1200.32 966,1199.73 967.2,1200.42 968.4,1199.96 969.6,1200 970.8,1198.19 972,1197.56 973.2,1198.13 974.4,1199.09 975.6,1198.6 976.8,1200.15 978,1200.51 979.2,1200.52 980.4,1201.89 981.6,1200.15 982.8,1201.65 984,1201.98 985.2,1204.74 986.4,1206.32 987.6,1209.16 988.8,1211.53 990,1210.26 991.2,1208.35 992.4,1206.36 993.6,1205.32 994.8,1202.37 996,1202.22 997.2,1203.11 998.4,1202.88 999.6,1203.48 1000.8,1204.1 1002,1204.4 1003.2,1205.56 1004.4,1208.23 1005.6,1209.1 1006.8,1211.18 1008,1211.51 1009.2,1212.18 1010.4,1212.21 1011.6,1213.44 1012.8,1211.92 1014,1211.33 1015.2,1210.37 1016.4,1208.84 1017.6,1207.04 1018.8,1204.99 1020,1205.58 1021.2,1204.39 1022.4,1205.74 1023.6,1205.59 1024.8,1206.54 1026,1208.29 1027.2,1207.03 1028.4,1208.05 1029.6,1207.25 1030.8,1207.31 1032,1208.6 1033.2,1209.13 1034.4,1207.35 1035.6,1207.83 1036.8,1207.88 1038,1210.25 1039.2,1212.22 1040.4,1212.49 1041.6,1212.74 1042.8,1211.89 1044,1213.65 1045.2,1214.93 1046.4,1215.12 1047.6,1215.54 1048.8,1214.39 1050,1215.83 1051.2,1214.35 1052.4,1213.42 1053.6,1213.95 1054.8,1212.08 1056,1212.81 1057.2,1212.28 1058.4,1211.53 1059.6,1211.17 1060.8,1210.06 1062,1208.19 1063.2,1209.44 1064.4,1210.11 1065.6,1210.44 1066.8,1209.69 1068,1208.87 1069.2,1209.35 1070.4,1208.23 1071.6,1207.2 1072.8,1206.38 1074,1210.24 1075.2,1207.53 1076.4,1209.12 1077.6,1210.45 1078.8,1207.58 1080,1207.61 1081.2,1207.2 1082.4,1209.49 1083.6,1209.41 1084.8,1212.05 1086,1213.46 1087.2,1214.31 1088.4,1215.82 1089.6,1213.53 1090.8,1213.42 1092,1213.15 1093.2,1212.97 1094.4,1214.54 1095.6,1215.59 1096.8,1214.76 1098,1214.61 1099.2,1214.6 1100.4,1214.7 1101.6,1216.58 1102.8,1217.05 1104,1217.9 1105.2,1218.25 1106.4,1218 1107.6,1219.26 1108.8,1219.03 1110,1220.13 1111.2,1220.8 1112.4,1217.87 1113.6,1216.44 1114.8,1213.55 1116,1213.36 1117.2,1212.83 1118.4,1214.39 1119.6,1215.5 1120.8,1216.28 1122,1216.64 1123.2,1214.92 1124.4,1213.4 1125.6,1211.98 1126.8,1211.44 1128,1210.86 1129.2,1210.73 1130.4,1211.76 1131.6,1212.28 1132.8,1210.72 1134,1209.17 1135.2,1210.06 1136.4,1208.1 1137.6,1207.78 1138.8,1207.23 1140,1207.88 1141.2,1208.75 1142.4,1210.13 1143.6,1207.61 1144.8,1205.57 1146,1204.84 1147.2,1204.93 1148.4,1204.28 1149.6,1206.04 1150.8,1206.18 1152,1204.45 1153.2,1204.01 1154.4,1202.42 1155.6,1202.26 1156.8,1205.36 1158,1205.15 1159.2,1202.8 1160.4,1203.46 1161.6,1202.76 1162.8,1202.96 1164,1203 1165.2,1203.26 1166.4,1204.06 1167.6,1204.94 1168.8,1205.42 1170,1204.29 1171.2,1204.08 1172.4,1205.97 1173.6,1206.16 1174.8,1208.59 1176,1209.58 1177.2,1209.07 1178.4,1208.3 1179.6,1207.84 1180.8,1208.4 1182,1208.17 1183.2,1211.12 1184.4,1213.52 1185.6,1214.89 1186.8,1217.53 1188,1217.28 1189.2,1218.81 1190.4,1218.6 1191.6,1218.33 1192.8,1216.78 1194,1216.58 1195.2,1214.02 1196.4,1213.3 1197.6,1211.92 1198.8,1213.55 1200,1214.61 1201.2,1213.89 1202.4,1214.16 1203.6,1211.72 1204.8,1210.89" stroke-width="7.5"/>
<polyline points="216,1503.74 217.2,1505.09 218.4,1508.7 219.6,1507.78 220.8,1504.44 222,1506.7 223.2,1505.56 224.4,1506.49 225.6,1503.6 226.8,1506.84 228,1506.16 229.2,1506.91 230.4,1502.95 231.6,1501.19 232.8,1496.1 234,1499.88 235.2,1490.97 236.4,1494.39 237.6,1491.55 238.8,1490.47 240,1490.98 241.2,1490.99 242.4,1492.98 243.6,1493.47 244.8,1496.57 246,1490.16 247.2,1489.83 248.4,1483.89 249.6,1482.51 250.8,1474.08 252,1475.45 253.2,1477.16 254.4,1475.7 255.6,1481.09 256.8,1480.9 258,1483.87 259.2,1483.02 260.4,1476.29 261.6,1473.11 262.8,1470.19 264,1469.38 265.2,1469.69 266.4,1467.83 267.6,1468.86 268.8,1469.53 270,1470.53 271.2,1471.51 272.4,1471.93 273.6,1475.48 274.8,1471.2 276,1470.5 277.2,1470.74 278.4,1467.47 279.6,1466.82 280.8,1466.52 282,1466.64 283.2,1462.83 284.4,1466.91 285.6,1463.35 286.8,1463.42 288,1463.05 289.2,1461.46 290.4,1460.96 291.6,1460.44 292.8,1463.46 294,1467.47 295.2,1465.84 296.4,1466.59 297.6,1460.18 298.8,1455.86 300,1457.39 301.2,1450.7 302.4,1448.88 303.6,1456.6 304.8,1456.23 306,1461.39 307.2,1461.19 308.4,1461.63 309.6,1456.38 310.8,1453.41 312,1452.43 313.2,1451.65 314.4,1450.66 315.6,1452.95 316.8,1448.36 318,1451.75 319.2,1449.65 320.4,1450.79 321.6,1449.54 322.8,1450.95 324,1452.66 325.2,1451.65 326.4,1453.18 327.6,1451.9 328.8,1454.43 330,1451.96 331.2,1451.08 332.4,1451.05 333.6,1448.75 334.8,1447.76 336,1448.59 337.2,1449.88 338.4,1452.97 339.6,1453.42 340.8,1453.26 342,1454.19 343.2,1452.11 344.4,1452.31 345.6,1446.81 346.8,1449.27 348,1445.32 349.2,1443.89 350.4,1442.61 351.6,1439.28 352.8,1436.91 354,1436.85 355.2,1434.2 356.4,1434.74 357.6,1440.64 358.8,1441.02 360,1448.94 361.2,1445.91 362.4,1444.15 363.6,1445.51 364.8,1443.16 366,1437.24 367.2,1436.32 368.4,1436.21 369.6,1436.7 370.8,1433.77 372,1434.21 373.2,1435.84 374.4,1434.51 375.6,1435.41 376.8,1434.75 378,1431.52 379.2,1431.17 380.4,1427.51 381.6,1431.24 382.8,1434.1 384,1430.99 385.2,1436.28 386.4,1436.93 387.6,1435.36 388.8,1435.9 390,1435.45 391.2,1431.36 392.4,1429.7 393.6,1427.39 394.8,1425.6 396,1423.56 397.2,1420.28 398.4,1424.06 399.6,1423.42 400.8,1425.75 402,1427.93 403.2,1429.18 404.4,1431.43 405.6,1432.7 406.8,1428.54 408,1424.43 409.2,1420.75 410.4,1417.36 411.6,1410.58 412.8,1410.16 414,1406.39 415.2,1401.38 416.4,1404.7 417.6,1407.44 418.8,1403.4 420,1401.2 421.2,1399.79 422.4,1402.32 423.6,1401.8 424.8,1401.37 426,1400.67 427.2,1402.47 428.4,1400.99 429.6,1397.05 430.8,1400.08 432,1398.51 433.2,1398.07 434.4,1399.2 435.6,1397.57 436.8,1393.02 438,1400.39 439.2,1399.56 440.4,1397.1 441.6,1395.72 442.8,1395.7 444,1392.17 445.2,1393.17 446.4,1390.71 447.6,1388.26 448.8,1385.45 450,1384.84 451.2,1386.96 452.4,1387.27 453.6,1386.06 454.8,1385.33 456,1383.77 457.2,1385.66 458.4,1385.98 459.6,1379.45 460.8,1382.78 462,1377 463.2,1380.39 464.4,1382.67 465.6,1380.98 466.8,1380.73 468,1383.52 469.2,1384.56 470.4,1382.13 471.6,1385.2 472.8,1381.06 474,1383.65 475.2,1380.08 476.4,1379.74 477.6,1379.96 478.8,1379.5 480,1381.76 481.2,1381.95 482.4,1378.75 483.6,1376.78 484.8,1373.8 486,1372.64 487.2,1371.57 488.4,1369.06 489.6,1367.27 490.8,1366.38 492,1366.59 493.2,1363.05 494.4,1363.04 495.6,1365.26 496.8,1364.68 498,1362.84 499.2,1366.14 500.4,1363.97 501.6,1365.31 502.8,1363.31 504,1368.04 505.2,1366.13 506.4,1364.98 507.6,1360.11 508.8,1354.54 510,1350.22 511.2,1347.44 512.4,1341.37 513.6,1340.65 514.8,1342.21 516,1344.45 517.2,1345.8 518.4,1347.8 519.6,1344.27 520.8,1344.9 522,1340.01 523.2,1340.95 524.4,1339.29 525.6,1341.32 526.8,1338.87 528,1336.55 529.2,1337.13 530.4,1336.38 531.6,1336.13 532.8,1337.06 534,1337.43 535.2,1344.48 536.4,1341.3 537.6,1344.04 538.8,1342.44 540,1346.06 541.2,1351.91 542.4,1356.22 543.6,1360.86 544.8,1359.24 546,1362.38 547.2,1364.55 548.4,1361.69 549.6,1365.56 550.8,1362.9 552,1364.86 553.2,1364.87 554.4,1366.69 555.6,1363.36 556.8,1367.9 558,1372.97 559.2,1373.63 560.4,1380.05 561.6,1382.24 562.8,1384.56 564,1387.41 565.2,1387.32 566.4,1390.16 567.6,1388.6 568.8,1388.45 570,1386.48 571.2,1386.7 572.4,1387.87 573.6,1384.77 574.8,1391.41 576,1387.88 577.2,1387.11 578.4,1387.82 579.6,1391.1 580.8,1394.88 582,1395.73 583.2,1400.69 584.4,1402.2 585.6,1400.97 586.8,1403.11 588,1402.9 589.2,1400.01 590.4,1404.16 591.6,1399.53 592.8,1402.49 594,1401.21 595.2,1402.5 596.4,1404.2 597.6,1407.43 598.8,1405.01 600,1406.42 601.2,1409 602.4,1405.89 603.6,1407.19 604.8,1409.15 606,1407.79 607.2,1410.42 608.4,1409.2 609.6,1410.91 610.8,1409.17 612,1406.48 613.2,1409.04 614.4,1405.38 615.6,1403.47 616.8,1401.26 618,1400.85 619.2,1399.75 620.4,1398.43 621.6,1397.96 622.8,1392.91 624,1394.56 625.2,1397.23 626.4,1396.1 627.6,1397.33 628.8,1400.11 630,1398.91 631.2,1399.36 632.4,1396.69 633.6,1395.8 634.8,1391.01 636,1384.45 637.2,1382.83 638.4,1377.86 639.6,1380.28 640.8,1378.74 642,1376.79 643.2,1375.75 644.4,1372.35 645.6,1375.23 646.8,1372.17 648,1370.8 649.2,1372.94 650.4,1371.73 651.6,1373 652.8,1373.51 654,1372.76 655.2,1379.39 656.4,1376.2 657.6,1377.13 658.8,1380.74 660,1375.36 661.2,1380.46 662.4,1380.67 663.6,1379.13 664.8,1381.7 666,1378.26 667.2,1381.46 668.4,1382.61 669.6,1376.94 670.8,1377.8 672,1380.19 673.2,1381.15 674.4,1381.45 675.6,1383.69 676.8,1384.69 678,1384.14 679.2,1388.47 680.4,1390.07 681.6,1392.06 682.8,1395.31 684,1404.31 685.2,1404.66 686.4,1409.45 687.6,1403.67 688.8,1404.66 690,1405.9 691.2,1405.64 692.4,1407.67 693.6,1408.08 694.8,1407.15 696,1404.48 697.2,1406.3 698.4,1410.55 699.6,1410.33 700.8,1412.67 702,1410.97 703.2,1413.44 704.4,1413.47 705.6,1417.03 706.8,1418.31 708,1420.52 709.2,1424.69 710.4,1421.81 711.6,1424.74 712.8,1421.53 714,1425.8 715.2,1423.96 716.4,1425.54 717.6,1426.99 718.8,1430.31 720,1428.01 721.2,1427.41 722.4,1426.38 723.6,1428.49 724.8,1426.35 726,1426.1 727.2,1425.68 728.4,1426.22 729.6,1423.31 730.8,1424.74 732,1426.37 733.2,1421.75 734.4,1427.77 735.6,1430.24 736.8,1426.07 738,1428.05 739.2,1425.08 740.4,1428.53 741.6,1429.14 742.8,1430.7 744,1427.68 745.2,1426.26 746.4,1424.53 747.6,1423.84 748.8,1426.68 750,1430.1 751.2,1431.21 752.4,1433.61 753.6,1432.99 754.8,1427.3 756,1430.64 757.2,1428.34 758.4,1427.74 759.6,1427.69 760.8,1428.26 762,1428.61 763.2,1430.99 764.4,1428.9 765.6,1433.3 766.8,1430.7 768,1433.85 769.2,1435.71 770.4,1433.07 771.6,1437.48 772.8,1439.18 774,1434.61 775.2,1435.16 776.4,1432.98 777.6,1433.04 778.8,1432.06 780,1431.23 781.2,1432.61 782.4,1431.54 783.6,1429.3 784.8,1430.83 786,1429.31 787.2,1428.27 788.4,1426.35 789.6,1433.92 790.8,1437.66 792,1433.58 793.2,1434.35 794.4,1434.91 795.6,1436.66 796.8,1436.43 798,1433.51 799.2,1433.69 800.4,1433.91 801.6,1430.41 802.8,1432.78 804,1430.44 805.2,1429.86 806.4,1428.24 807.6,1426.06 808.8,1427.8 810,1432.41 811.2,1435.59 812.4,1436.81 813.6,1438.28 814.8,1433.21 816,1428.69 817.2,1427.68 818.4,1427.04 819.6,1427.19 820.8,1429.32 822,1428.64 823.2,1429.79 824.4,1429.17 825.6,1428.16 826.8,1430.4 828,1429.02 829.2,1430.87 830.4,1429.75 831.6,1432.48 832.8,1433.01 834,1435.45 835.2,1439.25 836.4,1441.05 837.6,1438.56 838.8,1435.73 840,1436.12 841.2,1434 842.4,1431.37 843.6,1431.36 844.8,1429.87 846,1427.91 847.2,1429.92 848.4,1425.31 849.6,1423.97 850.8,1425.07 852,1421.6 853.2,1419.86 854.4,1419.35 855.6,1420.02 856.8,1418.36 858,1416.62 859.2,1413.8 860.4,1413.01 861.6,1417.83 862.8,1416.67 864,1421 865.2,1421.18 866.4,1424.49 867.6,1426.18 868.8,1428.93 870,1421.74 871.2,1427.13 872.4,1422.65 873.6,1423.6 874.8,1423.56 876,1421.03 877.2,1421.42 878.4,1421.11 879.6,1418.76 880.8,1415.8 882,1415.56 883.2,1414.16 884.4,1410.27 885.6,1413.79 886.8,1411.17 888,1406.17 889.2,1408.69 890.4,1412.86 891.6,1412.15 892.8,1409.78 894,1406.32 895.2,1408.21 896.4,1410.14 897.6,1410.55 898.8,1412.67 900,1415.2 901.2,1420.84 902.4,1421.82 903.6,1422.47 904.8,1420.33 906,1419.93 907.2,1415.96 908.4,1417.15 909.6,1416.84 910.8,1424.14 912,1426.11 913.2,1425.09 914.4,1420.18 915.6,1421.8 916.8,1422.55 918,1425.07 919.2,1422.1 920.4,1421.78 921.6,1420.65 922.8,1420.75 924,1415.41 925.2,1413.9 926.4,1410.66 927.6,1409.34 928.8,1406.67 930,1405.03 931.2,1402.85 932.4,1405.82 933.6,1405.63 934.8,1411.5 936,1408.64 937.2,1414.69 938.4,1412.46 939.6,1405.69 940.8,1406.9 942,1404.81 943.2,1401.63 944.4,1406.79 945.6,1407.08 946.8,1408.45 948,1406.8 949.2,1407.02 950.4,1405.87 951.6,1403.97 952.8,1402.49 954,1402.28 955.2,1399.96 956.4,1400.52 957.6,1394.69 958.8,1401.18 960,1399.58 961.2,1400.84 962.4,1401.74 963.6,1397.61 964.8,1400.26 966,1390.55 967.2,1389.63 968.4,1385.96 969.6,1385.49 970.8,1385.37 972,1386.59 973.2,1392.71 974.4,1390.25 975.6,1392.92 976.8,1390.2 978,1391.53 979.2,1386.76 980.4,1385.56 981.6,1385.41 982.8,1385.9 984,1386.95 985.2,1389.25 986.4,1386.65 987.6,1388.78 988.8,1387.45 990,1390.13 991.2,1391.64 992.4,1390.83 993.6,1393.43 994.8,1397.39 996,1401.39 997.2,1404.08 998.4,1405.01 999.6,1406.03 1000.8,1407.48 1002,1414.18 1003.2,1417.7 1004.4,1418.23 1005.6,1421.58 1006.8,1419.02 1008,1419.87 1009.2,1423.41 1010.4,1419.88 1011.6,1422.79 1012.8,1422.02 1014,1421.61 1015.2,1424.92 1016.4,1421.88 1017.6,1424.32 1018.8,1423.2 1020,1425.61 1021.2,1427.43 1022.4,1428.27 1023.6,1429.56 1024.8,1431.79 1026,1430.93 1027.2,1429.66 1028.4,1433.14 1029.6,1433.47 1030.8,1431.35 1032,1432.11 1033.2,1437.02 1034.4,1437.6 1035.6,1439.98 1036.8,1441.85 1038,1443.71 1039.2,1444.86 1040.4,1448 1041.6,1448.48 1042.8,1449.12 1044,1450.49 1045.2,1451.2 1046.4,1451.7 1047.6,1447.45 1048.8,1451.79 1050,1444.91 1051.2,1445.23 1052.4,1446.54 1053.6,1443.32 1054.8,1443.59 1056,1443.3 1057.2,1438.72 1058.4,1443.63 1059.6,1443.68 1060.8,1446.29 1062,1448.41 1063.2,1448.16 1064.4,1447.77 1065.6,1445.79 1066.8,1443.64 1068,1440.91 1069.2,1442.43 1070.4,1439.58 1071.6,1441.32 1072.8,1444.01 1074,1443.67 1075.2,1441.02 1076.4,1443.42 1077.6,1446.75 1078.8,1447.01 1080,1448.66 1081.2,1444.81 1082.4,1446.39 1083.6,1448.89 1084.8,1448.31 1086,1450.58 1087.2,1451.4 1088.4,1452.61 1089.6,1452.44 1090.8,1453.97 1092,1455 1093.2,1454.46 1094.4,1452.54 1095.6,1456.89 1096.8,1455.28 1098,1455.72 1099.2,1455.38 1100.4,1452.14 1101.6,1455.41 1102.8,1453.27 1104,1452.2 1105.2,1456.22 1106.4,1453.4 1107.6,1454.08 1108.8,1454.51 1110,1455.23 1111.2,1449.13 1112.4,1449.93 1113.6,1451.48 1114.8,1448.69 1116,1444.09 1117.2,1449.82 1118.4,1450.2 1119.6,1451.16 1120.8,1449.96 1122,1448.31 1123.2,1448.81 1124.4,1448 1125.6,1447.78 1126.8,1449.44 1128,1450.11 1129.2,1448.76 1130.4,1452.1 1131.6,1451.53 1132.8,1451.31 1134,1444.86 1135.2,1448.95 1136.4,1448.49 1137.6,1447.49 1138.8,1450.53 1140,1447.51 1141.2,1452.95 1142.4,1452.17 1143.6,1451.87 1144.8,1456.19 1146,1455.2 1147.2,1455.92 1148.4,1453.9 1149.6,1457.67 1150.8,1459.74 1152,1459.26 1153.2,1455.18 1154.4,1459.11 1155.6,1459.39 1156.8,1458.41 1158,1457.35 1159.2,1456.48 1160.4,1458.22 1161.6,1459.55 1162.8,1461.05 1164,1461.54 1165.2,1459.28 1166.4,1457.14 1167.6,1457.89 1168.8,1455.17 1170,1458.17 1171.2,1452.49 1172.4,1453.96 1173.6,1453.26 1174.8,1449.63 1176,1452.56 1177.2,1450.18 1178.4,1448.73 1179.6,1447.51 1180.8,1449.02 1182,1451.8 1183.2,1448.24 1184.4,1453.98 1185.6,1454.36 1186.8,1454.41 1188,1456.15 1189.2,1455.6 1190.4,1453.78 1191.6,1454.04 1192.8,1450.57 1194,1454.47 1195.2,1451.83 1196.4,1448.2 1197.6,1444.83 1198,1447.29" stroke-width="9.3"/>
<polyline points="1337,493.81 1338.2,493.01 1339.4,494.59 1340.6,495.4 1341.8,496.08 1343,494.47 1344.2,493.67 1345.4,493.75 1346.6,496.56 1347.8,497.94 1349,495.53 1350.2,492.48 1351.4,492.14 1352.6,495.7 1353.8,493.12 1355,490.08 1356.2,492.41 1357.4,490.49 1358.6,491.41 1359.8,491.29 1361,490.74 1362.2,492.08 1363.4,490.16 1364.6,488.83 1365.8,489.8 1367,490.12 1368.2,486.08 1369.4,487.81 1370.6,486.09 1371.8,486.44 1373,483.38 1374.2,484.31 1375.4,483.08 1376.6,481.99 1377.8,480.98 1379,482.29 1380.2,481.59 1381.4,481.16 1382.6,482.66 1383.8,479.02 1385,481.02 1386.2,479.25 1387.4,474.33 1388.6,478.08 1389.8,476.83 1391,479.17 1392.2,479.68 1393.4,476.5 1394.6,478.26 1395.8,476.98 1397,477.62 1398.2,472.79 1399.4,475.24 1400.6,471.49 1401.8,471.99 1403,469.91 1404.2,472.59 1405.4,470.28 1406.6,473.05 1407.8,470.27 1409,470.82 1410.2,470.79 1411.4,467.99 1412.6,468.19 1413.8,469.74 1415,465.83 1416.2,465.74 1417.4,464.07 1418.6,464.56 1419.8,461.92 1421,462.17 1422.2,463.23 1423.4,462.66 1424.6,460.96 1425.8,463.24 1427,458.5 1428.2,458.54 1429.4,458.27 1430.6,462.52 1431.8,459.91 1433,458.13 1434.2,456.88 1435.4,458.75 1436.6,455.58 1437.8,454.8 1439,458.17 1440.2,455 1441.4,456.11 1442.6,456.33 1443.8,455.12 1445,455.13 1446.2,457.55 1447.4,453.66 1448.6,452.08 1449.8,451.32 1451,454.4 1452.2,455.04 1453.4,456.73 1454.6,455.46 1455.8,455.43 1457,454.52 1458.2,454.29 1459.4,455.47 1460.6,454.99 1461.8,456.56 1463,461.14 1464.2,459.92 1465.4,457.29 1466.6,464.06 1467.8,461.96 1469,459.5 1470.2,462.81 1471.4,461.3 1472.6,460.34 1473.8,461.11 1475,460.99 1476.2,463.64 1477.4,466.6 1478.6,464.96 1479.8,466.85 1481,469.61 1482.2,463.67 1483.4,465.98 1484.6,465.04 1485.8,463.91 1487,464.85 1488.2,467.31 1489.4,468.93 1490.6,468.31 1491.8,470.16 1493,471.72 1494.2,471.26 1495.4,472.13 1496.6,471.04 1497.8,471.29 1499,473.72 1500.2,472.07 1501.4,471.98 1502.6,473.86 1503.8,472.19 1505,474.08 1506.2,476.65 1507.4,476.66 1508.6,478.09 1509.8,475.67 1511,473.71 1512.2,479.97 1513.4,479.58 1514.6,477.12 1515.8,481.88 1517,480.29 1518.2,477.47 1519.4,479.55 1520.6,479.37 1521.8,482.56 1523,478.31 1524.2,479.13 1525.4,478.99 1526.6,479.1 1527.8,479.07 1529,481.45 1530.2,483.35 1531.4,482.96 1532.6,480.79 1533.8,481.01 1535,483.44 1536.2,482.59 1537.4,482.67 1538.6,480.88 1539.8,486.66 1541,484.72 1542.2,481.83 1543.4,484.86 1544.6,485.96 1545.8,480.67 1547,484.04 1548.2,485.2 1549.4,487.47 1550.6,486.62 1551.8,486.86 1553,486.67 1554.2,489.08 1555.4,489.16 1556.6,484.53 1557.8,484.5 1559,491.2 1560.2,486.2 1561.4,487.84 1562.6,489.17 1563.8,490.27 1565,491.5 1566.2,490.6 1567.4,488.94 1568.6,491.03 1569.8,490.99 1571,494.06 1572.2,491.49 1573.4,489.81 1574.6,490.31 1575.8,494.02 1577,490.98 1578.2,489.03 1579.4,491.77 1580.6,493.05 1581.8,494.97 1583,491.3 1584.2,493.66 1585.4,494.04 1586.6,492.12 1587.8,493.28 1589,496.66 1590.2,496.5 1591.4,495.2 1592.6,494.44 1593.8,495.81 1595,494.07 1596.2,494.16 1597.4,492.93 1598.6,494.09 1599.8,494.12 1601,498.76 1602.2,494.88 1603.4,497.99 1604.6,498.32 1605.8,496.1 1607,498.1 1608.2,492.45 1609.4,495.72 1610.6,496.61 1611.8,491.37 1613,493.42 1614.2,497.17 1615.4,495.94 1616.6,495.49 1617.8,496.94 1619,496.73 1620.2,498.34 1621.4,497.62 1622.6,496.55 1623.8,496.27 1625,497.73 1626.2,500.47 1627.4,499.62 1628.6,500.32 1629.8,499.28 1631,497.21 1632.2,497.97 1633.4,499.96 1634.6,499 1635.8,497.61 1637,496.09 1638.2,498.23 1639.4,497.43 1640.6,497.46 1641.8,497.67 1643,498.92 1644.2,498.84 1645.4,499.47 1646.6,499.08 1647.8,499.45 1649,498.96 1650.2,497.68 1651.4,498.72 1652.6,499.55 1653.8,497.73 1655,498.49 1656.2,498.81 1657.4,495.99 1658.6,495.11 1659.8,500.01 1661,498.58 1662.2,499.87 1663.4,496.56 1664.6,500.8 1665.8,499.05 1667,497.05 1668.2,496.57 1669.4,497.42 1670.6,497.22 1671.8,497.66 1673,497.05 1674.2,501.14 1675.4,499.86 1676.6,500.48 1677.8,500.55 1679,496.9 1680.2,501.12 1681.4,500.1 1682.6,500.93 1683.8,502.43 1685,501.8 1686.2,505.03 1687.4,503.05 1688.6,502.78 1689.8,502.93 1691,504.81 1692.2,505.87 1693.4,504.02 1694.6,502.41 1695.8,505.43 1697,501.64 1698.2,504.37 1699.4,502.33 1700.6,501.6 1701.8,502.02 1703,504.19 1704.2,505.07 1705.4,503.8 1706.6,505.66 1707.8,507.01 1709,503.69 1710.2,502.15 1711.4,502.21 1712.6,501.77 1713.8,502.93 1715,502.77 1716.2,502.02 1717.4,505.21 1718.6,500.9 1719.8,503.07 1721,507.92 1722.2,505.93 1723.4,504.63 1724.6,504 1725.8,505.49 1727,504.01 1728.2,503.78 1729.4,502.41 1730.6,504.44 1731.8,503.23 1733,503.07 1734.2,502.67 1735.4,503.66 1736.6,503.24 1737.8,504.66 1739,501.3 1740.2,502.32 1741.4,504.78 1742.6,501.64 1743.8,503.01 1745,503.18 1746.2,503.77 1747.4,503.67 1748.6,500.91 1749.8,502.38 1751,501.98 1752.2,499.66 1753.4,500.7 1754.6,498.81 1755.8,497.14 1757,498.61 1758.2,496.69 1759.4,493.91 1760.6,491.07 1761.8,486.67 1763,473.1 1764.2,430.2 1765.4,344.65 1766,320.79 1766.6,344.17 1767.8,431.65 1769,475.17 1770.2,489.15 1771.4,492.82 1772.6,495.17 1773.8,498.16 1775,498.23 1776.2,499.31 1777.4,496.62 1778.6,496.99 1779.8,502.09 1781,502.18 1782.2,503.29 1783.4,501.66 1784.6,500.29 1785.8,499.58 1787,497.51 1788.2,501.16 1789.4,499.18 1790.6,501.49 1791.8,501.75 1793,502.3 1794.2,503.47 1795.4,501.59 1796.6,501.82 1797.8,501.28 1799,502.19 1800.2,504.87 1801.4,501.19 1802.6,503.07 1803.8,502.6 1805,503.01 1806.2,504.32 1807.4,502.37 1808.6,504.49 1809.8,506.25 1811,502.5 1812.2,503.37 1813.4,502.39 1814.6,503.43 1815.8,500.97 1817,504.32 1818.2,501.25 1819.4,499.79 1820.6,504.99 1821.8,504.29 1823,503.99 1824.2,504.36 1825.4,503.35 1826.6,503.71 1827.8,505.22 1829,505.51 1830.2,505.53 1831.4,504.44 1832.6,503.27 1833.8,503.62 1835,505.79 1836.2,506.73 1837.4,504.82 1838.6,505.07 1839.8,507.54 1841,506.62 1842.2,506.16 1843.4,503.1 1844.6,504.51 1845.8,504.4 1847,505.38 1848.2,502.3 1849.4,506.15 1850.6,504.35 1851.8,504.52 1853,502.15 1854.2,503.8 1855.4,505.79 1856.6,501.7 1857.8,504.74 1859,505.73 1860.2,503.97 1861.4,506.05 1862.6,503.99 1863.8,505.78 1865,504.44 1866.2,503.94 1867.4,506.61 1868.6,504.66 1869.8,504.5 1871,499.08 1872.2,496.37 1873.4,490.29 1874.6,472.18 1875.8,447.44 1876.2,444.78 1877,455.49 1878.2,477.33 1879.4,493.53 1880.6,497.17 1881.8,501.59 1883,501.49 1884.2,501.77 1885.4,503.03 1886.6,505.61 1887.8,501.45 1889,501.98 1890.2,504.4 1891.4,502.09 1892.6,505.2 1893.8,503.24 1895,503.68 1896.2,505.04 1897.4,508.22 1898.6,507.34 1899.8,507.36 1901,506.93 1902.2,503.56 1903.4,503.99 1904.6,507.02 1905.8,505.69 1907,505.63 1908.2,506.16 1909.4,504.59 1910.6,505.83 1911.8,503.49 1913,505.1 1914.2,503.61 1915.4,504.8 1916.6,506.51 1917.8,505.86 1919,507.56 1920.2,507.27 1921.4,506.93 1922.6,508.15 1923.8,503.87 1925,503.2 1926.2,506.3 1927.4,506.68 1928.6,508.51 1929.8,507.52 1931,508.09 1932.2,506.02 1933.4,508.39 1934.6,508.01 1935.8,505.45 1937,505.53 1938.2,506.76 1939.4,507.54 1940.6,502.86 1941.8,507.41 1943,507.57 1944.2,507.09 1945.4,507.85 1946.6,507.98 1947.8,505.86 1949,507.58 1950.2,506.05 1951.4,504.86 1952.6,506.44 1953.8,508 1955,504.11 1956.2,503.91 1957.4,503.6 1958.6,508.97 1959.8,505.63 1961,505.74 1962.2,505.1 1963.4,505.16 1964.6,503.96 1965.8,507.55 1967,507.76 1968.2,504.57 1969.4,506.04 1970.6,506.26 1971.8,507.1 1973,507.27 1974.2,507.93 1975.4,508.16 1976.6,507.66 1977.8,508.37 1979,505.48 1980.2,506.87 1981.4,510.04 1982.6,509 1983.8,508.35 1985,505.17 1986.2,504.7 1987.4,507.76 1988.6,507.13 1989.8,506.1 1991,505.89 1992.2,504.03 1993.4,506.51 1994.6,507 1995.8,507.43 1997,505.21 1998.2,505.4 1999.4,504.67 2000.6,508.64 2001.8,509.44 2003,506.28 2004.2,507.85 2005.4,507.39 2006.6,506.32 2007.8,502.84 2009,504.92 2010.2,505.85 2011.4,502.56 2012.6,503.51 2013.8,500.37 2015,507.27 2016.2,506.63 2017.4,506.43 2018.6,506.42 2019.8,505.9 2021,506.31 2022.2,505.39 2023.4,504.81 2024.6,504.78 2025.8,505.1 2027,507.5 2028.2,503.78 2029.4,506.97 2030.6,506.27 2031.8,506.07 2033,504.4 2034.2,508.46 2035.4,506.2 2036.6,506.19 2037.8,507.82 2039,505.6 2040.2,506.96 2041.4,506.8 2042.6,507.87 2043.8,507.86 2045,504.75 2046.2,507.06 2047.4,505.67 2048.6,506.21 2049.8,506.22 2051,508.01 2052.2,505.33 2053.4,507.59 2054.6,508.65 2055.8,506.23 2057,509.54 2058.2,505.28 2059.4,506.97 2060.6,506.62 2061.8,506.92 2063,507.06 2064.2,508.33 2065.4,508.91 2066.6,507.48 2067.8,509.4 2069,509.75 2070.2,505.22 2071.4,508.51 2072.6,507.18 2073.8,507 2075,509.85 2076.2,508.1 2077.4,507.54 2078.6,507.94 2079.8,505.25 2081,509.64 2082.2,507.23 2083.4,508.3 2084.6,507.57 2085.8,508.29 2087,509.62 2088.2,507.79 2089.4,508.23 2090.6,506.25 2091.8,507.01 2093,507.72 2094.2,504.64 2095.4,509.45 2096.6,505.56 2097.8,504.53 2099,508.86 2100.2,509.86 2101.4,506.09 2102.6,506.24 2103.8,511.15 2105,506.46 2106.2,503.16 2107.4,505.15 2108.6,509.19 2109.8,507.49 2111,507.68 2112.2,508.42 2113.4,507.36 2114.6,505.85 2115.8,504.09 2117,506.76 2118.2,504.95 2119.4,506.95 2120.6,509.43 2121.8,508.01 2123,507.04 2124.2,506.76 2125.4,508.21 2126.6,508.54 2127.8,505.64 2129,507.74 2130.2,509.44 2131.4,507.9 2132.6,505.3 2133.8,505.45 2135,503.87 2136.2,505.77 2137.4,509.54 2138.6,506.75 2139.8,505.26 2141,505.44 2142.2,505.84 2143.4,506.52 2144.6,506.51 2145.8,506.47 2147,509.1 2148.2,510.43 2149.4,507.62 2150.6,507.7 2151.8,510.07 2153,506.23 2154.2,507.28 2155.4,507.36 2156.6,507.73 2157.8,506.7 2159,505.69 2160.2,507.14 2161.4,505.28 2162.6,504.94 2163.8,505.08 2165,509.58 2166.2,506.04 2167.4,508.72 2168.6,508 2169.8,507.33 2171,505.55 2172.2,505.22 2173.4,506.75 2174.6,506.36 2175.8,505.73 2177,509.2 2178.2,505.93 2179.4,509.91 2180.6,508.19 2181.8,507.14 2183,508.5 2184.2,509.14 2185.4,504.93 2186.6,505.13 2187.8,505.34 2189,507.73 2190.2,508.58 2191.4,508.54 2192.6,507.19 2193.8,507.08 2195,509.38 2196.2,509.37 2197.4,508.35 2198.6,506.5 2199.8,509.32 2201,508.21 2202.2,507.28 2203.4,509.03 2204.6,507.7 2205.8,505.62 2207,506.16 2208.2,509.69 2209.4,507.77 2210.6,508.26 2211.8,506.46 2213,505.02 2214.2,506.95 2215.4,509.3 2216.6,507.98 2217.8,506.18 2219,507.22 2220.2,506.55 2221.4,507.19 2222.6,507.97 2223.8,509.25 2225,506.82 2226.2,506 2227.4,506.89 2228.6,507.05 2229.8,506.43 2231,506.91 2232.2,506.71 2233.4,504.6 2234.6,506.4 2235.8,504.04 2237,501 2238.2,498.77 2239.4,490.77 2240.6,488.08 2241,485 2241.8,488.05 2243,494.95 2244.2,499.99 2245.4,503.75 2246.6,507.23 2247.8,505.94 2249,508.31 2250.2,504.47 2251.4,508.12 2252.6,509.09 2253.8,508.72 2255,508.38 2256.2,509.61 2257.4,506.8 2258.6,506.21 2259.8,507.39 2261,508.73 2262.2,507.71 2263.4,507.35 2264.6,508.94 2265.8,509.89 2267,508.01 2268.2,505.95 2269.4,508.29 2270.6,507.36 2271.8,508.21 2273,506.91 2274.2,507.05 2275.4,508.76 2276.6,508.68 2277.8,508.84 2279,511.83 2280.2,509.59 2281.4,509.75 2282.6,512.05 2283.8,508.37 2285,506.81 2286.2,510.81 2287.4,509.7 2288.6,510.27 2289.8,511 2291,511.91 2292.2,510.27 2293.4,511.2 2294.6,509.8 2295.8,511.19 2297,510.98 2298.2,509.82 2299.4,511.25 2300.6,514.67 2301.8,508.9 2303,511.58 2304.2,511.8 2305.4,511.96 2306.6,509.47 2307.8,512.62 2309,512.11 2310.2,511.22 2311.4,511.05 2312.6,511.61 2313.8,512.38 2315,512.29 2316.2,514.25 2317.4,510.58 2318.6,512.04 2319.8,510.7 2321,512.68 2322.2,512.56 2323.4,511.95 2324.6,511.1 2325.8,511.91" stroke-width="8"/>
<polyline points="1337,915.24 1338.2,915.86 1339.4,912.65 1340.6,914.95 1341.8,916.36 1343,916.76 1344.2,915.71 1345.4,915.88 1346.6,914.13 1347.8,913.85 1349,913.41 1350.2,912.26 1351.4,912.37 1352.6,913.31 1353.8,912.62 1355,913.93 1356.2,914.22 1357.4,914.8 1358.6,913.61 1359.8,915.3 1361,913.57 1362.2,913.86 1363.4,914.43 1364.6,914.34 1365.8,912.64 1367,911.92 1368.2,913.39 1369.4,912.08 1370.6,913.44 1371.8,912.99 1373,912.66 1374.2,912.17 1375.4,912.24 1376.6,910.74 1377.8,911.5 1379,910.42 1380.2,910.94 1381.4,910.71 1382.6,911.71 1383.8,910.99 1385,910.01 1386.2,912.22 1387.4,910.11 1388.6,910.24 1389.8,910.81 1391,912 1392.2,910.53 1393.4,910.95 1394.6,909.96 1395.8,908.19 1397,909.81 1398.2,910.38 1399.4,909.82 1400.6,910.62 1401.8,909.99 1403,910.2 1404.2,911.13 1405.4,911.74 1406.6,910.37 1407.8,910.52 1409,910.93 1410.2,910.24 1411.4,910.96 1412.6,911.83 1413.8,909.47 1415,910.64 1416.2,907.94 1417.4,909.49 1418.6,909.39 1419.8,909.19 1421,909.38 1422.2,910.51 1423.4,910.29 1424.6,910.61 1425.8,909.53 1427,910.62 1428.2,909.3 1429.4,909.91 1430.6,909.88 1431.8,911.33 1433,909.36 1434.2,910.15 1435.4,911.28 1436.6,909.51 1437.8,908.8 1439,910.22 1440.2,910.06 1441.4,911.39 1442.6,910.22 1443.8,911.08 1445,911.4 1446.2,911.19 1447.4,908.94 1448.6,910.4 1449.8,907.99 1451,907.54 1452.2,908.43 1453.4,909.93 1454.6,910.09 1455.8,911 1457,910.76 1458.2,910.25 1459.4,909.4 1460.6,910.64 1461.8,907.34 1463,907.64 1464.2,908.96 1465.4,908.85 1466.6,908.6 1467.8,910.91 1469,911.26 1470.2,909.88 1471.4,911.84 1472.6,911.22 1473.8,910.46 1475,908.61 1476.2,908.81 1477.4,907.7 1478.6,908.51 1479.8,907.55 1481,908.46 1482.2,907.93 1483.4,909.32 1484.6,909.5 1485.8,910.29 1487,908.68 1488.2,909.2 1489.4,911.46 1490.6,910.65 1491.8,911.04 1493,910.26 1494.2,909.73 1495.4,910.1 1496.6,909.98 1497.8,910.37 1499,909.59 1500.2,911.91 1501.4,910.32 1502.6,910.78 1503.8,909.71 1505,910.42 1506.2,909.79 1507.4,909.84 1508.6,910.21 1509.8,909.33 1511,909.22 1512.2,909.66 1513.4,909.32 1514.6,908.68 1515.8,911.67 1517,909.04 1518.2,909.48 1519.4,911.76 1520.6,908.74 1521.8,909.51 1523,909.67 1524.2,908.76 1525.4,907.85 1526.6,907.74 1527.8,908.67 1529,908.86 1530.2,906.92 1531.4,908.97 1532.6,908.29 1533.8,909.69 1535,908.94 1536.2,908.02 1537.4,908.64 1538.6,909.3 1539.8,910.65 1541,912.16 1542.2,909.53 1543.4,908.71 1544.6,908.65 1545.8,907.74 1547,908.55 1548.2,908.47 1549.4,908.27 1550.6,907.56 1551.8,908.11 1553,908.85 1554.2,908.31 1555.4,909.71 1556.6,909.68 1557.8,909.07 1559,910.85 1560.2,908.51 1561.4,909.75 1562.6,909.66 1563.8,907.18 1565,907.09 1566.2,907.63 1567.4,907.54 1568.6,906.28 1569.8,905.3 1571,905.51 1572.2,904.81 1573.4,903.84 1574.6,904.68 1575.8,904.84 1577,903.95 1578.2,905.28 1579.4,904.47 1580.6,905.52 1581.8,903.18 1583,903.22 1584.2,902.43 1585.4,904.37 1586.6,904.72 1587.8,905.55 1589,906.09 1590.2,906.23 1591.4,906.21 1592.6,903.88 1593.8,905.3 1595,904.29 1596.2,904.33 1597.4,903.37 1598.6,905.21 1599.8,904.5 1601,903.21 1602.2,905.11 1603.4,904.86 1604.6,903.91 1605.8,904.47 1607,904 1608.2,902.62 1609.4,903.16 1610.6,904.68 1611.8,904.02 1613,903.58 1614.2,902.02 1615.4,902.4 1616.6,903.43 1617.8,904.48 1619,903.84 1620.2,903.81 1621.4,905.49 1622.6,904.53 1623.8,904.03 1625,903.94 1626.2,903.98 1627.4,905.76 1628.6,905.63 1629.8,904.35 1631,903.73 1632.2,905.95 1633.4,905.33 1634.6,904.63 1635.8,903.55 1637,900.36 1638.2,900.12 1639.4,901.19 1640.6,900.43 1641.8,901.13 1643,900.48 1644.2,900.28 1645.4,901.15 1646.6,900.26 1647.8,900.49 1649,900.49 1650.2,900.11 1651.4,900.52 1652.6,900.71 1653.8,898.34 1655,899.14 1656.2,898.09 1657.4,897.87 1658.6,895.17 1659.8,895.17 1661,894.17 1662.2,893.55 1663.4,891.95 1664.6,892.05 1665.8,890.82 1667,891.2 1668.2,890.74 1669.4,888.14 1670.6,888.22 1671.8,888.62 1673,888.06 1674.2,889.61 1675.4,888.51 1676.6,889.37 1677.8,889.34 1679,892.36 1680.2,892.08 1681.4,893.25 1682.6,892.92 1683.8,891.68 1685,892.86 1686.2,893.79 1687.4,896.56 1688.6,896.82 1689.8,898.2 1691,898.59 1692.2,898.3 1693.4,898.59 1694.6,897.93 1695.8,896.94 1697,898.44 1698.2,901.09 1699.4,899.66 1700.6,901.78 1701.8,902.24 1703,900.63 1704.2,901.78 1705.4,901.17 1706.6,903.61 1707.8,903.02 1709,902.99 1710.2,903.82 1711.4,904.09 1712.6,904.34 1713.8,905.33 1715,905.68 1716.2,905.82 1717.4,907.88 1718.6,909.83 1719.8,908.6 1721,908.61 1722.2,908.77 1723.4,910.76 1724.6,910.61 1725.8,911.11 1727,909.53 1728.2,909.84 1729.4,909.5 1730.6,910.9 1731.8,910.08 1733,908.69 1734.2,911.54 1735.4,912.86 1736.6,913.21 1737.8,910.02 1739,912.43 1740.2,912.6 1741.4,912.32 1742.6,911.67 1743.8,910.42 1745,911.64 1746.2,912.12 1747.4,912.95 1748.6,912.79 1749.8,912.11 1751,912.65 1752.2,911 1753.4,911.38 1754.6,911.69 1755.8,911.88 1757,910.66 1758.2,911.24 1759.4,909.39 1760.6,906.65 1761.8,904.36 1763,896.79 1764.2,876.5 1765.4,814.67 1766.6,745.19 1766.6,747.33 1767.8,816.03 1769,874.65 1770.2,896.49 1771.4,902.51 1772.6,904.22 1773.8,906.57 1775,909.45 1776.2,908.97 1777.4,909.59 1778.6,910.47 1779.8,908.36 1781,907.73 1782.2,907.37 1783.4,908.25 1784.6,909.17 1785.8,907.45 1787,906.2 1788.2,905.79 1789.4,903.25 1790.6,902.15 1791.8,899.79 1793,898.13 1794.2,896.9 1795.4,896.09 1796.6,894.13 1797.8,893.01 1799,894.05 1800.2,893.71 1801.4,890.84 1802.6,887.38 1803.8,887.69 1805,888.13 1806.2,886.41 1807.4,888.33 1808.6,889.17 1809.8,890.09 1811,891.37 1812.2,893.74 1813.4,893.88 1814.6,895.41 1815.8,898.2 1817,897.78 1818.2,898.73 1819.4,902.39 1820.6,905.32 1821.8,905.79 1823,907.46 1824.2,907.86 1825.4,909.12 1826.6,911.49 1827.8,911.54 1829,911.01 1830.2,910.5 1831.4,910.64 1832.6,911.85 1833.8,912.74 1835,914.95 1836.2,914.36 1837.4,914.81 1838.6,915.96 1839.8,915.97 1841,915.72 1842.2,916.15 1843.4,916.02 1844.6,914.49 1845.8,915.65 1847,915.4 1848.2,915.34 1849.4,915.81 1850.6,915.38 1851.8,916.93 1853,916.06 1854.2,916.82 1855.4,917.38 1856.6,917.22 1857.8,917.89 1859,917.72 1860.2,917.47 1861.4,916.19 1862.6,916.1 1863.8,916.66 1865,917.28 1866.2,916.01 1867.4,916.66 1868.6,915.76 1869.8,915.11 1871,913.31 1872.2,912.43 1873.4,906.97 1874.6,894.1 1875.8,866.8 1876.7,854.28 1877,855.7 1878.2,882.29 1879.4,904.16 1880.6,912.23 1881.8,913.61 1883,915.7 1884.2,917.4 1885.4,915.29 1886.6,916.1 1887.8,917.52 1889,917.45 1890.2,916.43 1891.4,918.72 1892.6,918.54 1893.8,918.3 1895,916.54 1896.2,917.19 1897.4,918.18 1898.6,917.7 1899.8,918.34 1901,917.96 1902.2,919.81 1903.4,918.5 1904.6,919.36 1905.8,918.77 1907,917.57 1908.2,919.45 1909.4,917.09 1910.6,917.32 1911.8,918.15 1913,916.99 1914.2,917.17 1915.4,918.97 1916.6,918.95 1917.8,919.19 1919,919.53 1920.2,920.66 1921.4,918.22 1922.6,920.42 1923.8,918.45 1925,918.12 1926.2,916.07 1927.4,916.75 1928.6,918.49 1929.8,918.93 1931,917.96 1932.2,919.56 1933.4,920.37 1934.6,919.33 1935.8,918.75 1937,919.17 1938.2,919.87 1939.4,920.7 1940.6,921.17 1941.8,919.95 1943,920.55 1944.2,919.96 1945.4,920.12 1946.6,920.8 1947.8,920.74 1949,919.42 1950.2,918.77 1951.4,918.33 1952.6,918.22 1953.8,917.89 1955,918.38 1956.2,917.91 1957.4,917.27 1958.6,917.11 1959.8,917.68 1961,919.78 1962.2,918.6 1963.4,918.93 1964.6,919.06 1965.8,918.87 1967,920.64 1968.2,918.65 1969.4,918.21 1970.6,917.96 1971.8,918.91 1973,917.88 1974.2,917.51 1975.4,917.03 1976.6,916.44 1977.8,917.52 1979,916.3 1980.2,919.79 1981.4,915.98 1982.6,917.06 1983.8,917.8 1985,917.49 1986.2,916.19 1987.4,916.18 1988.6,915.89 1989.8,916 1991,916.96 1992.2,917.25 1993.4,917.47 1994.6,917.79 1995.8,918.65 1997,917.55 1998.2,917.99 1999.4,918.32 2000.6,916.72 2001.8,917.29 2003,915.79 2004.2,916.7 2005.4,917.47 2006.6,917.49 2007.8,918.1 2009,918.93 2010.2,917.52 2011.4,917.25 2012.6,917.78 2013.8,915.8 2015,916.17 2016.2,916.14 2017.4,914.21 2018.6,914.07 2019.8,913.49 2021,913.82 2022.2,912.76 2023.4,912.19 2024.6,909.03 2025.8,911.06 2027,912.17 2028.2,910.87 2029.4,910.01 2030.6,910.73 2031.8,908.52 2033,909 2034.2,910.17 2035.4,910 2036.6,911.45 2037.8,912.08 2039,911.7 2040.2,912.62 2041.4,913.42 2042.6,913.47 2043.8,915.09 2045,914.57 2046.2,914.07 2047.4,913.59 2048.6,914.55 2049.8,915.78 2051,914.49 2052.2,915.19 2053.4,914.65 2054.6,913.82 2055.8,913.05 2057,913.83 2058.2,911.45 2059.4,912.79 2060.6,911.46 2061.8,913.16 2063,912.58 2064.2,912.88 2065.4,913.68 2066.6,911.87 2067.8,912.7 2069,912.45 2070.2,913.23 2071.4,914.03 2072.6,914.12 2073.8,914.59 2075,914.64 2076.2,915.57 2077.4,914.62 2078.6,914.9 2079.8,914.91 2081,913.57 2082.2,914.26 2083.4,915.05 2084.6,914.59 2085.8,915.69 2087,912.61 2088.2,915.53 2089.4,917.01 2090.6,916.44 2091.8,917.32 2093,916.09 2094.2,914.87 2095.4,914.8 2096.6,911.96 2097.8,910.77 2099,912.99 2100.2,912.29 2101.4,911.92 2102.6,911.47 2103.8,910.94 2105,910.12 2106.2,910.78 2107.4,910.56 2108.6,909.57 2109.8,909.37 2111,908.27 2112.2,905.72 2113.4,904.7 2114.6,901.42 2115.8,900.18 2117,898.23 2118.2,893.79 2119.4,892.23 2120.6,892.07 2121.8,890.19 2123,889.23 2124.2,888.23 2125.4,884.45 2126.6,883.94 2127.8,882.63 2129,882.96 2130.2,885.22 2131.4,886.29 2132.6,887.98 2133.8,888.05 2135,888.95 2136.2,889.34 2137.4,888.72 2138.6,892.05 2139.8,894.52 2141,897.97 2142.2,899.15 2143.4,902.51 2144.6,904.16 2145.8,905.03 2147,907.24 2148.2,908.33 2149.4,908.12 2150.6,909.51 2151.8,910.2 2153,911.35 2154.2,911.88 2155.4,913.51 2156.6,915.02 2157.8,915.85 2159,916.16 2160.2,918.1 2161.4,919.43 2162.6,919.95 2163.8,919.49 2165,917.86 2166.2,918.98 2167.4,917.54 2168.6,918.56 2169.8,918.5 2171,920.57 2172.2,920.2 2173.4,920.58 2174.6,920.54 2175.8,922.38 2177,920.95 2178.2,921.15 2179.4,921.26 2180.6,919.99 2181.8,920.66 2183,918.22 2184.2,920.05 2185.4,918.12 2186.6,920.16 2187.8,920.79 2189,921.54 2190.2,923.33 2191.4,919.62 2192.6,921.99 2193.8,921.22 2195,922.17 2196.2,921.56 2197.4,921.1 2198.6,920.36 2199.8,920.17 2201,921.08 2202.2,919.79 2203.4,922.27 2204.6,921.04 2205.8,922.1 2207,920.65 2208.2,921.63 2209.4,920.88 2210.6,921.4 2211.8,922.06 2213,921.21 2214.2,922.5 2215.4,923.55 2216.6,925.35 2217.8,923.42 2219,924.79 2220.2,923.98 2221.4,922.44 2222.6,923 2223.8,923.01 2225,924.67 2226.2,923.39 2227.4,925 2228.6,923.46 2229.8,923.97 2231,921.57 2232.2,921.97 2233.4,922.49 2234.6,921.24 2235.8,920.1 2237,920.08 2238.2,917.2 2239.4,909.22 2240.6,899.01 2241,897.5 2241.8,901.83 2243,910.79 2244.2,917.05 2245.4,919.27 2246.6,918.08 2247.8,920.39 2249,920.59 2250.2,920.97 2251.4,921.9 2252.6,923.08 2253.8,923.95 2255,923.9 2256.2,922.76 2257.4,924.06 2258.6,921.4 2259.8,923.28 2261,922.78 2262.2,922.68 2263.4,921.23 2264.6,922.79 2265.8,922.54 2267,921.98 2268.2,920.85 2269.4,922.71 2270.6,922.05 2271.8,921.46 2273,922.17 2274.2,924.85 2275.4,922.14 2276.6,923.47 2277.8,924.03 2279,924.44 2280.2,922.6 2281.4,922.52 2282.6,924.19 2283.8,923.6 2285,924.31 2286.2,921.88 2287.4,922.4 2288.6,923.78 2289.8,923.87 2291,923.71 2292.2,925.01 2293.4,923.02 2294.6,923.32 2295.8,924.19 2297,924.3 2298.2,924.05 2299.4,924.42 2300.6,922.66 2301.8,922.97 2303,924.02 2304.2,925.06 2305.4,923.64 2306.6,922.89 2307.8,923.26 2309,924.93 2310.2,924.78 2311.4,923.11 2312.6,924.25 2313.8,925.36 2315,925.68 2316.2,923.97 2317.4,924.26 2318.6,925.09 2319.8,923.78 2321,923.68 2322.2,924.59 2323.4,926.05 2324.6,926.17 2325.8,925.73" stroke-width="6.5"/>
<polyline points="1337,1209.31 1338.2,1211.22 1339.4,1209.13 1340.6,1206.77 1341.8,1208.55 1343,1205.21 1344.2,1208.97 1345.4,1213.82 1346.6,1205.19 1347.8,1204.17 1349,1208.73 1350.2,1207.74 1351.4,1205.77 1352.6,1200.49 1353.8,1203.94 1355,1206.7 1356.2,1197.67 1357.4,1201.8 1358.6,1195.36 1359.8,1198.18 1361,1195.56 1362.2,1202.8 1363.4,1197.48 1364.6,1203.08 1365.8,1200.51 1367,1196.42 1368.2,1183.19 1369.4,1190.07 1370.6,1190.39 1371.8,1189.76 1373,1180.61 1374.2,1184.2 1375.4,1180.47 1376.6,1179.68 1377.8,1187.7 1379,1177.77 1380.2,1180.75 1381.4,1184.68 1382.6,1176.14 1383.8,1177.14 1385,1176.92 1386.2,1175.09 1387.4,1167.39 1388.6,1172.18 1389.8,1177.02 1391,1161.9 1392.2,1173.45 1393.4,1169.72 1394.6,1165.58 1395.8,1177.9 1397,1170.95 1398.2,1160.18 1399.4,1166.18 1400.6,1168.25 1401.8,1163.53 1403,1166.83 1404.2,1161.57 1405.4,1164.06 1406.6,1166.63 1407.8,1154.77 1409,1158.43 1410.2,1153.8 1411.4,1155.59 1412.6,1147.28 1413.8,1148.57 1415,1148.89 1416.2,1153.22 1417.4,1152.9 1418.6,1138.64 1419.8,1140.3 1421,1146.36 1422.2,1130.98 1423.4,1137.58 1424.6,1138.32 1425.8,1145.86 1427,1143.64 1428.2,1139.38 1429.4,1140.22 1430.6,1140.87 1431.8,1149.76 1433,1138.71 1434.2,1138.56 1435.4,1141.86 1436.6,1139.4 1437.8,1138.72 1439,1134.07 1440.2,1139.73 1441.4,1137.09 1442.6,1145.39 1443.8,1141.9 1445,1138.05 1446.2,1141.42 1447.4,1135.15 1448.6,1142.1 1449.8,1135.57 1451,1136.84 1452.2,1124.16 1453.4,1129.23 1454.6,1115.25 1455.8,1113.62 1457,1126.35 1458.2,1127.23 1459.4,1135.69 1460.6,1148.6 1461.8,1132.45 1463,1133.66 1464.2,1138.91 1465.4,1140.63 1466.6,1137.12 1467.8,1137.59 1469,1142.5 1470.2,1141.97 1471.4,1134.34 1472.6,1140.23 1473.8,1141.61 1475,1135.93 1476.2,1143.16 1477.4,1137.1 1478.6,1146.66 1479.8,1142.6 1481,1141.96 1482.2,1138.33 1483.4,1141.19 1484.6,1131.83 1485.8,1137.74 1487,1147.25 1488.2,1135.89 1489.4,1153.72 1490.6,1141.9 1491.8,1157.19 1493,1150.39 1494.2,1160.07 1495.4,1157.78 1496.6,1149.62 1497.8,1165.06 1499,1166.55 1500.2,1159.36 1501.4,1158.71 1502.6,1159.11 1503.8,1155.74 1505,1167.37 1506.2,1160.25 1507.4,1164.12 1508.6,1161.11 1509.8,1162.85 1511,1160.25 1512.2,1173.91 1513.4,1167.87 1514.6,1174.29 1515.8,1171.22 1517,1169.13 1518.2,1172.76 1519.4,1172.84 1520.6,1175.82 1521.8,1173.73 1523,1173.3 1524.2,1167.77 1525.4,1170.77 1526.6,1183.38 1527.8,1172.8 1529,1171.41 1530.2,1178.2 1531.4,1183.3 1532.6,1168.93 1533.8,1174.96 1535,1173.36 1536.2,1168.46 1537.4,1181.29 1538.6,1178.18 1539.8,1179.47 1541,1176.39 1542.2,1183.37 1543.4,1179.83 1544.6,1182.66 1545.8,1179.14 1547,1179.53 1548.2,1192.81 1549.4,1184.94 1550.6,1189.4 1551.8,1188.78 1553,1186.86 1554.2,1186.44 1555.4,1191.28 1556.6,1185.92 1557.8,1186.25 1559,1186.84 1560.2,1191.94 1561.4,1189.3 1562.6,1187.11 1563.8,1181.93 1565,1177.9 1566.2,1188.82 1567.4,1189.43 1568.6,1184.58 1569.8,1188 1571,1189.29 1572.2,1189.28 1573.4,1189.11 1574.6,1182.17 1575.8,1191.83 1577,1179.2 1578.2,1190.47 1579.4,1189.86 1580.6,1192.03 1581.8,1197.27 1583,1195.34 1584.2,1183.24 1585.4,1181.45 1586.6,1194 1587.8,1186.24 1589,1191.41 1590.2,1195.57 1591.4,1184.04 1592.6,1182.09 1593.8,1193.8 1595,1193.8 1596.2,1193.23 1597.4,1195.05 1598.6,1191.37 1599.8,1188.32 1601,1195 1602.2,1191.91 1603.4,1188.94 1604.6,1199.35 1605.8,1197.28 1607,1199.91 1608.2,1194.11 1609.4,1196.01 1610.6,1193.86 1611.8,1193.53 1613,1197.69 1614.2,1192.53 1615.4,1197.8 1616.6,1197.75 1617.8,1205.59 1619,1189.72 1620.2,1199.63 1621.4,1194.22 1622.6,1193.31 1623.8,1185.76 1625,1190.01 1626.2,1195.7 1627.4,1192.92 1628.6,1194.53 1629.8,1193.49 1631,1200.88 1632.2,1195.33 1633.4,1184.73 1634.6,1191.43 1635.8,1184.93 1637,1178.07 1638.2,1190.53 1639.4,1198.73 1640.6,1192.26 1641.8,1186.75 1643,1187.38 1644.2,1197.22 1645.4,1193.27 1646.6,1193.13 1647.8,1193.53 1649,1194.04 1650.2,1197.42 1651.4,1195.97 1652.6,1193.74 1653.8,1188.01 1655,1195.28 1656.2,1189.86 1657.4,1198.55 1658.6,1187.6 1659.8,1193.11 1661,1194.38 1662.2,1189.05 1663.4,1203.7 1664.6,1203.09 1665.8,1194.39 1667,1199.89 1668.2,1198.38 1669.4,1184.56 1670.6,1197.37 1671.8,1195.52 1673,1195.4 1674.2,1189.45 1675.4,1193.15 1676.6,1193.99 1677.8,1201.27 1679,1198.51 1680.2,1198.21 1681.4,1206.56 1682.6,1198.87 1683.8,1201.62 1685,1197.5 1686.2,1214.73 1687.4,1213.04 1688.6,1213.22 1689.8,1211.95 1691,1209.28 1692.2,1209.55 1693.4,1207.56 1694.6,1208.06 1695.8,1209.19 1697,1215.94 1698.2,1211.39 1699.4,1208.34 1700.6,1205.94 1701.8,1205.77 1703,1216.1 1704.2,1211.2 1705.4,1209.23 1706.6,1206.62 1707.8,1202.6 1709,1207.49 1710.2,1212.13 1711.4,1207.57 1712.6,1209.11 1713.8,1209.5 1715,1211.03 1716.2,1203.63 1717.4,1210.2 1718.6,1208 1719.8,1216.44 1721,1209.66 1722.2,1215.8 1723.4,1219.78 1724.6,1210.97 1725.8,1208.83 1727,1211.53 1728.2,1209.91 1729.4,1205.13 1730.6,1211.55 1731.8,1218.82 1733,1209.37 1734.2,1210.15 1735.4,1206.73 1736.6,1212.45 1737.8,1205.46 1739,1205.98 1740.2,1216.4 1741.4,1206.53 1742.6,1214.56 1743.8,1215.95 1745,1210.01 1746.2,1211.4 1747.4,1218.07 1748.6,1208.79 1749.8,1207.2 1751,1203.98 1752.2,1210.24 1753.4,1216.48 1754.6,1213.72 1755.8,1205.11 1757,1205 1758.2,1206.57 1759.4,1210.58 1760.6,1208.21 1761.8,1210.41 1763,1210.94 1764.2,1208.21 1765.4,1209.62 1766.6,1210.61 1767.8,1209.15 1769,1211.49 1770.2,1217.17 1771.4,1211.63 1772.6,1209.61 1773.8,1202.76 1775,1212.96 1776.2,1203.45 1777.4,1206.59 1778.6,1217.12 1779.8,1217.27 1781,1214.04 1782.2,1207.43 1783.4,1213.49 1784.6,1211.61 1785.8,1217.06 1787,1224 1788.2,1214.75 1789.4,1210.45 1790.6,1208.58 1791.8,1213.43 1793,1213.25 1794.2,1209.82 1795.4,1216.45 1796.6,1211.93 1797.8,1222.33 1799,1222.15 1800.2,1222.15 1801.4,1215.43 1802.6,1220.41 1803.8,1218.33 1805,1217.77 1806.2,1218.2 1807.4,1213.41 1808.6,1212.03 1809.8,1221.52 1811,1217.5 1812.2,1219.96 1813.4,1224.48 1814.6,1213.46 1815.8,1218.01 1817,1222.73 1818.2,1223.84 1819.4,1220.57 1820.6,1226.78 1821.8,1223.59 1823,1218.16 1824.2,1220.3 1825.4,1228.59 1826.6,1227.67 1827.8,1217.51 1829,1230.91 1830.2,1227.02 1831.4,1229.43 1832.6,1222.08 1833.8,1222.62 1835,1219.22 1836.2,1235.34 1837.4,1223.98 1838.6,1231.74 1839.8,1222.92 1841,1226.59 1842.2,1218.93 1843.4,1224.03 1844.6,1228.95 1845.8,1218.41 1847,1227.09 1848.2,1223.55 1849.4,1217.78 1850.6,1220.41 1851.8,1221.09 1853,1223.21 1854.2,1221 1855.4,1219.5 1856.6,1221.71 1857.8,1218.09 1859,1216.66 1860.2,1222.15 1861.4,1226.09 1862.6,1215.87 1863.8,1222.65 1865,1219.81 1866.2,1218.45 1867.4,1226.66 1868.6,1221.06 1869.8,1230.2 1871,1221.06 1872.2,1226.55 1873.4,1224.52 1874.6,1222.11 1875.8,1227.88 1877,1224.55 1878.2,1227.79 1879.4,1225.55 1880.6,1221.26 1881.8,1225.41 1883,1225.74 1884.2,1229.22 1885.4,1221.45 1886.6,1225.61 1887.8,1219.16 1889,1229.98 1890.2,1222.95 1891.4,1219.76 1892.6,1226.62 1893.8,1230.44 1895,1218.62 1896.2,1220.13 1897.4,1221.93 1898.6,1221.38 1899.8,1228.63 1901,1224.68 1902.2,1225.56 1903.4,1231.16 1904.6,1225.36 1905.8,1229.82 1907,1223.49 1908.2,1222.21 1909.4,1219.77 1910.6,1235.34 1911.8,1226.39 1913,1228.81 1914.2,1227.28 1915.4,1228.31 1916.6,1227.88 1917.8,1236.07 1919,1224.04 1920.2,1221.87 1921.4,1224.13 1922.6,1222.48 1923.8,1231.43 1925,1231.38 1926.2,1223.61 1927.4,1221.47 1928.6,1225.42 1929.8,1233.31 1931,1216.39 1932.2,1230.97 1933.4,1224.59 1934.6,1233.59 1935.8,1224.67 1937,1228.36 1938.2,1223.19 1939.4,1224.99 1940.6,1234.9 1941.8,1232.51 1943,1228.22 1944.2,1227.18 1945.4,1222.89 1946.6,1229.12 1947.8,1229.81 1949,1228.69 1950.2,1228.47 1951.4,1223.84 1952.6,1228.53 1953.8,1229.12 1955,1234.82 1956.2,1237.11 1957.4,1228.32 1958.6,1225.03 1959.8,1227.39 1961,1224.85 1962.2,1224 1963.4,1226.56 1964.6,1222.22 1965.8,1228.84 1967,1225.77 1968.2,1227.64 1969.4,1226.72 1970.6,1225.4 1971.8,1225.21 1973,1228.66 1974.2,1227.03 1975.4,1230.12 1976.6,1229.42 1977.8,1223.78 1979,1229.98 1980.2,1224 1981.4,1226.4 1982.6,1227.38 1983.8,1219.69 1985,1228.67 1986.2,1229.06 1987.4,1227.81 1988.6,1226.84 1989.8,1227.35 1991,1225.11 1992.2,1227.96 1993.4,1226.62 1994.6,1228.89 1995.8,1222.87 1997,1228.59 1998.2,1227.86 1999.4,1226.39 2000.6,1225.36 2001.8,1229.77 2003,1221.14 2004.2,1230.41 2005.4,1229.44 2006.6,1230.07 2007.8,1230.28 2009,1226.17 2010.2,1227.87 2011.4,1231.08 2012.6,1229.65 2013.8,1227.57 2015,1220.07 2016.2,1228.57 2017.4,1231.7 2018.6,1232.13 2019.8,1229.17 2021,1222.05 2022.2,1232.62 2023.4,1227.94 2024.6,1217.6 2025.8,1229.22 2027,1220.2 2028.2,1219.57 2029.4,1221.54 2030.6,1228.91 2031.8,1222.14 2033,1225.49 2034.2,1232.45 2035.4,1232.98 2036.6,1226.72 2037.8,1227 2039,1222.89 2040.2,1224.9 2041.4,1229.36 2042.6,1228.42 2043.8,1226.88 2045,1230.36 2046.2,1222.41 2047.4,1225.71 2048.6,1229.16 2049.8,1229.04 2051,1231.57 2052.2,1228.37 2053.4,1225.04 2054.6,1227.47 2055.8,1221.95 2057,1220.13 2058.2,1230.49 2059.4,1228.54 2060.6,1229.93 2061.8,1221.15 2063,1226.49 2064.2,1225.28 2065.4,1224.48 2066.6,1218.7 2067.8,1226.59 2069,1231.35 2070.2,1228.48 2071.4,1223.73 2072.6,1225.7 2073.8,1228.86 2075,1214.24 2076.2,1225.86 2077.4,1228.98 2078.6,1229.8 2079.8,1234.07 2081,1231.47 2082.2,1228.46 2083.4,1229.11 2084.6,1232.1 2085.8,1227.55 2087,1229.73 2088.2,1233.64 2089.4,1237.85 2090.6,1228.08 2091.8,1228.71 2093,1229.82 2094.2,1234.68 2095.4,1230.05 2096.6,1236.41 2097.8,1226.11 2099,1229.23 2100.2,1228.48 2101.4,1232.41 2102.6,1233.54 2103.8,1223.41 2105,1226.63 2106.2,1232.75 2107.4,1229.37 2108.6,1226.02 2109.8,1236.5 2111,1233.28 2112.2,1232.76 2113.4,1228.17 2114.6,1234.5 2115.8,1230.01 2117,1235.69 2118.2,1227.75 2119.4,1227.89 2120.6,1231.93 2121.8,1228.44 2123,1234.46 2124.2,1233.2 2125.4,1228.76 2126.6,1233.01 2127.8,1231.14 2129,1236.49 2130.2,1230.77 2131.4,1232.38 2132.6,1240.12 2133.8,1244.87 2135,1243.39 2136.2,1234.58 2137.4,1234.25 2138.6,1238.84 2139.8,1231.74 2141,1228.46 2142.2,1233.4 2143.4,1235.29 2144.6,1230.35 2145.8,1227.21 2147,1228.34 2148.2,1237.51 2149.4,1232.58 2150.6,1235.89 2151.8,1237.87 2153,1239.64 2154.2,1235.81 2155.4,1238.94 2156.6,1233.28 2157.8,1235.77 2159,1232.77 2160.2,1242 2161.4,1237.46 2162.6,1234.27 2163.8,1235.91 2165,1235.98 2166.2,1238.99 2167.4,1229.19 2168.6,1230.98 2169.8,1233.56 2171,1245.78 2172.2,1239.54 2173.4,1235.78 2174.6,1239.74 2175.8,1245.7 2177,1237.07 2178.2,1236.62 2179.4,1242.89 2180.6,1239.72 2181.8,1239.84 2183,1234.86 2184.2,1245.03 2185.4,1244.13 2186.6,1240.02 2187.8,1240.89 2189,1229.43 2190.2,1240.68 2191.4,1236.98 2192.6,1239.25 2193.8,1240.65 2195,1236.16 2196.2,1230.78 2197.4,1239.3 2198.6,1234.41 2199.8,1236.19 2201,1235.01 2202.2,1236.12 2203.4,1228.32 2204.6,1242.49 2205.8,1238.58 2207,1241.48 2208.2,1244.71 2209.4,1236.32 2210.6,1228.3 2211.8,1232.5 2213,1231.4 2214.2,1234.68 2215.4,1237.79 2216.6,1229.26 2217.8,1239.28 2219,1232.43 2220.2,1239.86 2221.4,1238.46 2222.6,1237.45 2223.8,1238.14 2225,1236.41 2226.2,1236.34 2227.4,1232.06 2228.6,1238.53 2229.8,1246.05 2231,1246.49 2232.2,1243.75 2233.4,1241.41 2234.6,1235.52 2235.8,1243.93 2237,1237.95 2238.2,1237.96 2239.4,1237.19 2240.6,1238.45 2241.8,1235.71 2243,1236.77 2244.2,1232.37 2245.4,1235.55 2246.6,1247.15 2247.8,1238.21 2249,1238.26 2250.2,1242.09 2251.4,1243.05 2252.6,1235.8 2253.8,1239.63 2255,1243.85 2256.2,1240.74 2257.4,1239.86 2258.6,1245.15 2259.8,1235.5 2261,1238.3 2262.2,1235.46 2263.4,1243.3 2264.6,1229.43 2265.8,1234.58 2267,1235.2 2268.2,1240.19 2269.4,1240.15 2270.6,1243.7 2271.8,1231.85 2273,1241.33 2274.2,1237.49 2275.4,1236.05 2276.6,1241.26 2277.8,1235.94 2279,1231.24 2280.2,1238.36 2281.4,1234.04 2282.6,1237.5 2283.8,1241.64 2285,1241.28 2286.2,1246.02 2287.4,1238.12 2288.6,1232.51 2289.8,1235.47 2291,1235.02 2292.2,1234.35 2293.4,1241.47 2294.6,1237.79 2295.8,1232.74 2297,1243.87 2298.2,1241.07 2299.4,1243.2 2300.6,1242.61 2301.8,1244.95 2303,1242.23 2304.2,1246.7 2305.4,1243.3 2306.6,1242.95 2307.8,1243.27 2309,1236.17 2310.2,1241.31 2311.4,1241.15 2312.6,1243.02 2313.8,1236.36 2315,1248.14 2316.2,1241.95 2317.4,1236.82 2318.6,1235.28 2319.8,1241.44 2321,1242.06 2322.2,1239.45 2323.4,1242.66 2324.6,1239.8 2325.8,1244.96" stroke-width="6"/>
<polyline points="1337,1445.6 1338.8,1447.79 1340.6,1447.03 1342.4,1453.95 1344.2,1440.69 1346,1455.25 1347.8,1449.52 1349.6,1461.66 1351.4,1461.41 1353.2,1464.34 1355,1459.99 1356.8,1453.85 1358.6,1458.57 1360.4,1460.74 1362.2,1444.28 1364,1451.25 1365.8,1446.1 1367.6,1455.33 1369.4,1438.9 1371.2,1441.15 1373,1443.89 1374.8,1441.47 1376.6,1427.06 1378.4,1440.01 1380.2,1435.91 1382,1434.59 1383.8,1434.16 1385.6,1435.7 1387.4,1420.98 1389.2,1443.41 1391,1427.69 1392.8,1418.68 1394.6,1433.84 1396.4,1443.56 1398.2,1430.13 1400,1444.03 1401.8,1444.39 1403.6,1428.06 1405.4,1416.97 1407.2,1425.2 1409,1441.05 1410.8,1426.92 1412.6,1418.58 1414.4,1414.1 1416.2,1417.59 1418,1413.1 1419.8,1417.63 1421.6,1418.26 1423.4,1405.13 1425.2,1410.33 1427,1403.56 1428.8,1411.22 1430.6,1402.29 1432.4,1401.49 1434.2,1424.15 1436,1410.26 1437.8,1415.27 1439.6,1428.36 1441.4,1415.95 1443.2,1408.26 1445,1408.52 1446.8,1402.55 1448.6,1415.76 1450.4,1405.57 1452.2,1419.64 1454,1404.22 1455.8,1404.41 1457.6,1404.14 1459.4,1412.16 1461.2,1409.6 1463,1418.06 1464.8,1404.45 1466.6,1409.39 1468.4,1419.31 1470.2,1404.08 1472,1409.57 1473.8,1417.22 1475.6,1410.65 1477.4,1403.09 1479.2,1394.69 1481,1426.6 1482.8,1414.33 1484.6,1420.26 1486.4,1408.03 1488.2,1424.08 1490,1416.54 1491.8,1415.31 1493.6,1410.47 1495.4,1420.11 1497.2,1415.15 1499,1417.9 1500.8,1409.38 1502.6,1418.74 1504.4,1424.86 1506.2,1417.12 1508,1426.92 1509.8,1431.69 1511.6,1425.83 1513.4,1425.36 1515.2,1426.41 1517,1438.09 1518.8,1422.06 1520.6,1431.99 1522.4,1432.8 1524.2,1437.09 1526,1435.06 1527.8,1427.4 1529.6,1448.7 1531.4,1436.62 1533.2,1426.76 1535,1430.4 1536.8,1436.68 1538.6,1440.16 1540.4,1426.24 1542.2,1440.21 1544,1425.57 1545.8,1430.07 1547.6,1442.31 1549.4,1449.39 1551.2,1437.68 1553,1435.91 1554.8,1446.97 1556.6,1431.85 1558.4,1441.96 1560.2,1441.25 1562,1445.91 1563.8,1440.7 1565.6,1437.49 1567.4,1443.79 1569.2,1432.42 1571,1445.81 1572.8,1436.92 1574.6,1436.31 1576.4,1440.58 1578.2,1443.16 1580,1446.94 1581.8,1440.76 1583.6,1448.52 1585.4,1452.34 1587.2,1447.3 1589,1443.11 1590.8,1457.34 1592.6,1451.66 1594.4,1432 1596.2,1435.76 1598,1440.78 1599.8,1427.71 1601.6,1430.4 1603.4,1421.12 1605.2,1433.64 1607,1430.74 1608.8,1429.56 1610.6,1437.5 1612.4,1425.37 1614.2,1425.89 1616,1442.56 1617.8,1420.09 1619.6,1431.41 1621.4,1411.43 1623.2,1416.24 1625,1424.95 1626.8,1411.51 1628.6,1404.87 1630.4,1425.04 1632.2,1402.67 1634,1402.47 1635.8,1404.32 1637.6,1392.48 1639.4,1408.93 1641.2,1411.48 1643,1403.08 1644.8,1396.31 1646.6,1389.41 1648.4,1392.3 1650.2,1360.42 1652,1376.59 1653.8,1375.67 1655.6,1358.07 1657.4,1373.38 1659.2,1369.22 1661,1369.65 1662.8,1370.17 1664.6,1371.8 1666.4,1369.68 1668.2,1357.74 1670,1363.2 1671.8,1362.91 1673.6,1366.21 1675.4,1362.99 1677.2,1375.1 1679,1378.97 1680.8,1382.09 1682.6,1385.9 1684.4,1385.58 1686.2,1376.34 1688,1379.83 1689.8,1385.4 1691.6,1395.17 1693.4,1393.94 1695.2,1404.21 1697,1410.46 1698.8,1396.98 1700.6,1407.12 1702.4,1398 1704.2,1393.55 1706,1395.25 1707.8,1403.65 1709.6,1394.2 1711.4,1411.59 1713.2,1420.27 1715,1403.45 1716.8,1410.53 1718.6,1423.74 1720.4,1416.91 1722.2,1417.24 1724,1415.6 1725.8,1424.69 1727.6,1419.6 1729.4,1409.28 1731.2,1400.26 1733,1398.8 1734.8,1422.4 1736.6,1415.97 1738.4,1427.42 1740.2,1419.49 1742,1406.44 1743.8,1415.61 1745.6,1421.75 1747.4,1407.44 1749.2,1411.2 1751,1426.8 1752.8,1403.12 1754.6,1406.33 1756.4,1420.13 1758.2,1414 1760,1405.88 1761.8,1404.76 1763.6,1418.95 1765.4,1424.65 1767.2,1422.61 1769,1419.87 1770.8,1426.91 1772.6,1418.41 1774.4,1410.02 1776.2,1428.89 1778,1406.08 1779.8,1414.13 1781.6,1415.92 1783.4,1427.74 1785.2,1412.1 1787,1412.56 1788.8,1398.23 1790.6,1410.79 1792.4,1410.47 1794.2,1411.17 1796,1399.51 1797.8,1407.29 1799.6,1399.82 1801.4,1402.31 1803.2,1404.22 1805,1418.09 1806.8,1417.22 1808.6,1430.7 1810.4,1427.9 1812.2,1430.8 1814,1431.22 1815.8,1436.1 1817.6,1443.12 1819.4,1431.31 1821.2,1444.53 1823,1434.56 1824.8,1443.88 1826.6,1439.07 1828.4,1442.03 1830.2,1443.93 1832,1456.07 1833.8,1451.93 1835.6,1458.73 1837.4,1450.76 1839.2,1453.21 1841,1466.72 1842.8,1444.82 1844.6,1450.75 1846.4,1455.99 1848.2,1470.6 1850,1454.47 1851.8,1464.62 1853.6,1469.91 1855.4,1458.35 1857.2,1459.47 1859,1472.91 1860.8,1457.87 1862.6,1455.75 1864.4,1469.53 1866.2,1461.72 1868,1473.57 1869.8,1468.65 1871.6,1453.2 1873.4,1468.17 1875.2,1466.97 1877,1462.76 1878.8,1474.88 1880.6,1456.02 1882.4,1460.34 1884.2,1466.32 1886,1475.44 1887.8,1460.31 1889.6,1467.39 1891.4,1468.1 1893.2,1463.62 1895,1471.97 1896.8,1467.04 1898.6,1471.39 1900.4,1475.62 1902.2,1466.91 1904,1467.45 1905.8,1467.64 1907.6,1469.72 1909.4,1465.47 1911.2,1467.83 1913,1476.26 1914.8,1469.34 1916.6,1497.57 1918.4,1468.75 1920.2,1476.2 1922,1461.87 1923.8,1470.15 1925.6,1467.87 1927.4,1470.36 1929.2,1479.79 1931,1470.53 1932.8,1464.67 1934.6,1474.97 1936.4,1469.13 1938.2,1476.26 1940,1489.97 1941.8,1487.16 1943.6,1490.03 1945.4,1486.95 1947.2,1483.38 1949,1472.72 1950.8,1480.09 1952.6,1479.3 1954.4,1487.78 1956.2,1489.94 1958,1486.81 1959.8,1477.07 1961.6,1494.34 1963.4,1490.63 1965.2,1480.45 1967,1483.69 1968.8,1486.91 1970.6,1482.7 1972.4,1481.27 1974.2,1485.62 1976,1482.38 1977.8,1483.78 1979.6,1471.23 1981.4,1471.22 1983.2,1493.62 1985,1471.2 1986.8,1484.23 1988.6,1482.45 1990.4,1480.91 1992.2,1474.52 1994,1486.35 1995.8,1481.98 1997.6,1476.69 1999.4,1468.55 2001.2,1476.07 2003,1473.22 2004.8,1468.79 2006.6,1479.69 2008.4,1481.53 2010.2,1483.06 2012,1478.19 2013.8,1474.65 2015.6,1483.57 2017.4,1480.18 2019.2,1490.22 2021,1477.74 2022.8,1467.12 2024.6,1478.12 2026.4,1483.61 2028.2,1465.01 2030,1456.59 2031.8,1448.4 2033.6,1460.71 2035.4,1442.08 2037.2,1439.58 2039,1441.82 2040.8,1429.5 2042.6,1436.72 2044.4,1429.22 2046.2,1436.3 2048,1441.4 2049.8,1446.63 2051.6,1438.85 2053.4,1448.58 2055.2,1441.66 2057,1436.4 2058.8,1456.54 2060.6,1456.1 2062.4,1463.14 2064.2,1448.16 2066,1470.14 2067.8,1471.9 2069.6,1473.19 2071.4,1479.07 2073.2,1470.18 2075,1488.05 2076.8,1479.68 2078.6,1480.05 2080.4,1460.94 2082.2,1466.41 2084,1491.72 2085.8,1485.82 2087.6,1490.33 2089.4,1481.87 2091.2,1483.45 2093,1487.41 2094.8,1477.59 2096.6,1491.64 2098.4,1475.52 2100.2,1484.51 2102,1480.28 2103.8,1483.56 2105.6,1489.47 2107.4,1474.03 2109.2,1484.14 2111,1480.26 2112.8,1482.52 2114.6,1474.56 2116.4,1470.46 2118.2,1476.85 2120,1483.3 2121.8,1480.7 2123.6,1477.43 2125.4,1481.13 2127.2,1470.22 2129,1479.7 2130.8,1483.85 2132.6,1483.18 2134.4,1483.1 2136.2,1487.93 2138,1492.25 2139.8,1503.96 2141.6,1488.5 2143.4,1488.71 2145.2,1503.22 2147,1498.13 2148.8,1491.13 2150.6,1507.52 2152.4,1495.95 2154.2,1496.44 2156,1495.58 2157.8,1494.06 2159.6,1500.55 2161.4,1493.15 2163.2,1517.25 2165,1504.44 2166.8,1501.57 2168.6,1497.92 2170.4,1504.75 2172.2,1509.92 2174,1505.12 2175.8,1495.92 2177.6,1502.03 2179.4,1492.1 2181.2,1513.66 2183,1509.11 2184.8,1506.29 2186.6,1507.08 2188.4,1501.02 2190.2,1503.71 2192,1510.69 2193.8,1503.86 2195.6,1508.47 2197.4,1506.75 2199.2,1507.02 2201,1507.46 2202.8,1512.2 2204.6,1503.09 2206.4,1509.8 2208.2,1499.93 2210,1501.93 2211.8,1501.24 2213.6,1511.46 2215.4,1502.09 2217.2,1510.9 2219,1494.13 2220.8,1499.76 2222.6,1482.65 2224.4,1496.67 2226.2,1489.08 2228,1500.85 2229.8,1494.69 2231.6,1494.55 2233.4,1502.36 2235.2,1489.88 2237,1494.14 2238.8,1513.19 2240.6,1497.51 2242.4,1509.38 2244.2,1498.54 2246,1494.81 2247.8,1503.6 2249.6,1513.17 2251.4,1507.15 2253.2,1506.55 2255,1514.97 2256.8,1504.89 2258.6,1515.16 2260.4,1512.36 2262.2,1503.24 2264,1516.94 2265.8,1519.53 2267.6,1511.2 2269.4,1513.87 2271.2,1511.26 2273,1505.26 2274.8,1518.13 2276.6,1505.3 2278.4,1515.44 2280.2,1507.76 2282,1504.12 2283.8,1515 2285.6,1512.68 2287.4,1524.25 2289.2,1511.83 2291,1513.51 2292.8,1512.93 2294.6,1509.93 2296.4,1520.51 2298.2,1521.71 2300,1516.92 2301.8,1505.17 2303.6,1515.1 2305.4,1511.69 2307.2,1508.94 2309,1502.38 2310.8,1519.77 2312.6,1522.48 2314.4,1516.6 2316.2,1518.01 2318,1526.27 2319.8,1526.77 2321.6,1514.58 2323.4,1494.27 2325.2,1519.82 2326,1517.07" stroke-width="1.25" shape-rendering="crispEdges"/>
</g>
<g fill="#000" shape-rendering="crispEdges">
<rect x="203" y="37" width="13" height="1510"/>
<rect x="209" y="32" width="1002" height="12"/>
<rect x="1205" y="37" width="12" height="1538"/>
<rect x="209" y="1541" width="1002" height="11"/>
<rect x="280" y="1552" width="13" height="23"/>
<rect x="588" y="1552" width="13" height="23"/>
<rect x="896" y="1552" width="13" height="23"/>
<rect x="434" y="1552" width="13" height="9"/>
<rect x="742" y="1552" width="13" height="9"/>
<rect x="1050" y="1552" width="13" height="9"/>
<rect x="1324" y="37" width="13" height="1510"/>
<rect x="1330" y="32" width="1003" height="12"/>
<rect x="2326" y="37" width="13" height="1538"/>
<rect x="1330" y="1541" width="1003" height="11"/>
<rect x="1402" y="1552" width="12" height="23"/>
<rect x="1710" y="1552" width="12" height="23"/>
<rect x="2018" y="1552" width="12" height="23"/>
<rect x="1556" y="1552" width="12" height="9"/>
<rect x="1864" y="1552" width="12" height="9"/>
<rect x="2172" y="1552" width="12" height="9"/>
</g>
<g fill="#000">
<circle cx="520.4" cy="228.5" r="17.4"/>
<circle cx="578.5" cy="253" r="17.4"/>
<circle cx="728.6" cy="390.5" r="17.4"/>
<circle cx="879.3" cy="411" r="17.4"/>
<circle cx="932.6" cy="411" r="17.4"/>
<circle cx="989.5" cy="413.8" r="17.4"/>
<circle cx="1029.8" cy="417.6" r="17.4"/>
<circle cx="1162" cy="426" r="17.4"/>
<circle cx="522.4" cy="660.6" r="17.4"/>
<circle cx="584.5" cy="684.8" r="17.4"/>
<circle cx="730.5" cy="817" r="17.4"/>
<circle cx="872.4" cy="848.8" r="17.4"/>
<circle cx="930.2" cy="837" r="17.4"/>
</g>
<g fill="none" stroke="#000" stroke-width="4">
<circle cx="1766.5" cy="281.9" r="15.5"/>
<circle cx="1879.5" cy="405.2" r="15.5"/>
<circle cx="2237.9" cy="449.3" r="15.5"/>
<circle cx="1764.4" cy="713" r="15.5"/>
<circle cx="1876.7" cy="813.8" r="15.5"/>
<circle cx="2239.5" cy="865.7" r="15.5"/>
</g>
<defs><clipPath id="k1" clipPathUnits="userSpaceOnUse"><path clip-rule="evenodd" d="M-60,-130H420V70H-60ZM37.1,-13.21H56.64V3H37.1ZM70.36,-13.21H88.63V3H70.36Z"/></clipPath><clipPath id="k2" clipPathUnits="userSpaceOnUse"><path clip-rule="evenodd" d="M-60,-130H420V70H-60ZM35.6,-14.71H55.14V4.5H35.6ZM71.86,-14.71H90.13V4.5H71.86ZM91.21,-14.71H110.76V4.5H91.21ZM127.48,-14.71H145.75V4.5H127.48ZM146.83,-14.71H166.37V4.5H146.83ZM183.09,-14.71H201.36V4.5H183.09Z"/></clipPath></defs>
<g>
<text transform="translate(220.24 388.3) scale(0.7125 0.6524)" font-family="Liberation Sans, Arial, sans-serif" font-size="100" font-weight="bold" clip-path="url(#k1)">(1)</text>
<text transform="translate(218.47 836.48) scale(0.7054 0.6439)" font-family="Liberation Sans, Arial, sans-serif" font-size="100" font-weight="bold">(2)</text>
<text transform="translate(228.46 1078.07) scale(0.7089 0.6492)" font-family="Liberation Sans, Arial, sans-serif" font-size="100" font-weight="bold">(3)</text>
<text transform="translate(222.17 1410.3) scale(0.7063 0.6524)" font-family="Liberation Sans, Arial, sans-serif" font-size="100" font-weight="bold">(4)</text>
<text transform="translate(1346.95 401.26) scale(0.7098 0.6449)" font-family="Liberation Sans, Arial, sans-serif" font-size="100" font-weight="bold" clip-path="url(#k1)">(1)</text>
<text transform="translate(1348.17 870.76) scale(0.7054 0.6449)" font-family="Liberation Sans, Arial, sans-serif" font-size="100" font-weight="bold">(2)</text>
<text transform="translate(1343.14 1103.34) scale(0.7116 0.6503)" font-family="Liberation Sans, Arial, sans-serif" font-size="100" font-weight="bold">(3)</text>
<text transform="translate(1342.12 1382.34) scale(0.7170 0.6503)" font-family="Liberation Sans, Arial, sans-serif" font-size="100" font-weight="bold">(4)</text>
<text transform="translate(536.61 189.52) rotate(-90) scale(0.4336 0.4705)" font-family="Liberation Sans, Arial, sans-serif" font-size="100" font-weight="bold" stroke="#000" stroke-width="3" stroke-linejoin="round">(002)</text>
<text transform="translate(597.51 210.51) rotate(-90) scale(0.4327 0.4663)" font-family="Liberation Sans, Arial, sans-serif" font-size="100" font-weight="bold" stroke="#000" stroke-width="3" stroke-linejoin="round" clip-path="url(#k2)">(111)</text>
<text transform="translate(542.44 623.51) rotate(-90) scale(0.4327 0.4694)" font-family="Liberation Sans, Arial, sans-serif" font-size="100" font-weight="bold" stroke="#000" stroke-width="3" stroke-linejoin="round">(002)</text>
<text transform="translate(604.44 643.52) rotate(-90) scale(0.4336 0.4694)" font-family="Liberation Sans, Arial, sans-serif" font-size="100" font-weight="bold" stroke="#000" stroke-width="3" stroke-linejoin="round" clip-path="url(#k2)">(111)</text>
<text transform="translate(1780.46 250.51) rotate(-90) scale(0.4327 0.4684)" font-family="Liberation Sans, Arial, sans-serif" font-size="100" font-weight="bold" stroke="#000" stroke-width="3" stroke-linejoin="round" clip-path="url(#k2)">(111)</text>
<text transform="translate(1895.66 371.03) rotate(-90) scale(0.4362 0.4684)" font-family="Liberation Sans, Arial, sans-serif" font-size="100" font-weight="bold" stroke="#000" stroke-width="3" stroke-linejoin="round">(200)</text>
<text transform="translate(2254.62 424.53) rotate(-90) scale(0.4358 0.4611)" font-family="Liberation Sans, Arial, sans-serif" font-size="100" font-weight="bold" stroke="#000" stroke-width="3" stroke-linejoin="round">(220)</text>
<text transform="translate(1784.44 670.51) rotate(-90) scale(0.4327 0.4694)" font-family="Liberation Sans, Arial, sans-serif" font-size="100" font-weight="bold" stroke="#000" stroke-width="3" stroke-linejoin="round" clip-path="url(#k2)">(111)</text>
<text transform="translate(1898.74 777.92) rotate(-90) scale(0.4344 0.4694)" font-family="Liberation Sans, Arial, sans-serif" font-size="100" font-weight="bold" stroke="#000" stroke-width="3" stroke-linejoin="round">(200)</text>
<text transform="translate(2257.48 838.23) rotate(-90) scale(0.4362 0.4674)" font-family="Liberation Sans, Arial, sans-serif" font-size="100" font-weight="bold" stroke="#000" stroke-width="3" stroke-linejoin="round">(220)</text>
<text transform="translate(241.74 1649.06) scale(0.7874 0.7437)" font-family="Liberation Sans, Arial, sans-serif" font-size="100" font-weight="bold">20</text>
<text transform="translate(550.3 1649.06) scale(0.7981 0.7437)" font-family="Liberation Sans, Arial, sans-serif" font-size="100" font-weight="bold">40</text>
<text transform="translate(858.02 1649.06) scale(0.7932 0.7437)" font-family="Liberation Sans, Arial, sans-serif" font-size="100" font-weight="bold">60</text>
<text transform="translate(1168.26 1649.06) scale(0.7808 0.7437)" font-family="Liberation Sans, Arial, sans-serif" font-size="100" font-weight="bold">80</text>
<text transform="translate(1362.69 1649.06) scale(0.8029 0.7437)" font-family="Liberation Sans, Arial, sans-serif" font-size="100" font-weight="bold">20</text>
<text transform="translate(1672.51 1649.06) scale(0.7924 0.7437)" font-family="Liberation Sans, Arial, sans-serif" font-size="100" font-weight="bold">40</text>
<text transform="translate(1979.62 1649.06) scale(0.7932 0.7437)" font-family="Liberation Sans, Arial, sans-serif" font-size="100" font-weight="bold">60</text>
<text transform="translate(2289.85 1649.06) scale(0.7846 0.7437)" font-family="Liberation Sans, Arial, sans-serif" font-size="100" font-weight="bold">80</text>
<text transform="translate(90.27 795.36) rotate(-90) scale(0.9025 1.1513)" font-family="DejaVu Sans, Verdana, sans-serif" font-size="100" font-weight="bold">a.u.</text>
<text font-weight="bold"><tspan x="248.72" y="163.9" font-family="Liberation Sans, Arial, sans-serif" font-size="111.45" textLength="91.73" lengthAdjust="spacingAndGlyphs">A</tspan><tspan x="336.28" y="163.91" font-family="Liberation Sans, Arial, sans-serif" font-size="108.98" textLength="34.73" lengthAdjust="spacingAndGlyphs">)</tspan></text>
<text font-weight="bold"><tspan x="1389.42" y="160" font-family="Liberation Sans, Arial, sans-serif" font-size="111.74" textLength="83.11" lengthAdjust="spacingAndGlyphs">B</tspan><tspan x="1476.28" y="159.99" font-family="Liberation Sans, Arial, sans-serif" font-size="109.09" textLength="34.73" lengthAdjust="spacingAndGlyphs">)</tspan></text>
<text font-weight="bold"><tspan x="1132.41" y="1794.9" font-family="DejaVu Sans, Verdana, sans-serif" font-size="122.28" textLength="81.66" lengthAdjust="spacingAndGlyphs">2</tspan><tspan x="1206.55" y="1797.77" font-family="Liberation Serif, Times New Roman, serif" font-size="142.82" textLength="84.23" lengthAdjust="spacingAndGlyphs">θ</tspan><tspan x="1289.86" y="1795.05" font-family="Liberation Sans, Arial, sans-serif" font-size="146.42" textLength="47.57" lengthAdjust="spacingAndGlyphs">(</tspan><tspan x="1343.47" y="1801.1" font-family="Liberation Sans, Arial, sans-serif" font-size="140" textLength="58.99" lengthAdjust="spacingAndGlyphs">º</tspan><tspan x="1397.18" y="1795.05" font-family="Liberation Sans, Arial, sans-serif" font-size="146.42" textLength="48.17" lengthAdjust="spacingAndGlyphs">)</tspan></text>
</g>
</svg>
</body></html>
